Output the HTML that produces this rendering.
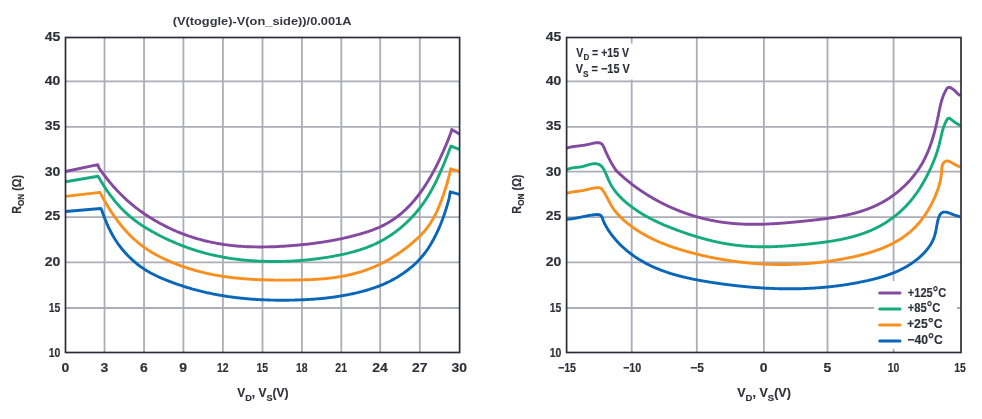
<!DOCTYPE html><html><head><meta charset="utf-8"><style>html,body{margin:0;padding:0;background:#fff;}svg{display:block;will-change:transform;}text{font-family:"Liberation Sans",Arial,sans-serif;font-weight:bold;fill:#2f2f3a;stroke:#2f2f3a;stroke-width:0.15px;}</style></head><body>
<svg width="982" height="419" viewBox="0 0 982 419">
<rect width="982" height="419" fill="#fff"/>
<line x1="104.55" y1="37.50" x2="104.55" y2="352.50" stroke="#acadb6" stroke-width="1.8"/>
<line x1="144.05" y1="37.50" x2="144.05" y2="352.50" stroke="#acadb6" stroke-width="1.8"/>
<line x1="183.40" y1="37.50" x2="183.40" y2="352.50" stroke="#acadb6" stroke-width="1.8"/>
<line x1="222.90" y1="37.50" x2="222.90" y2="352.50" stroke="#acadb6" stroke-width="1.8"/>
<line x1="262.50" y1="37.50" x2="262.50" y2="352.50" stroke="#acadb6" stroke-width="1.8"/>
<line x1="301.90" y1="37.50" x2="301.90" y2="352.50" stroke="#acadb6" stroke-width="1.8"/>
<line x1="341.30" y1="37.50" x2="341.30" y2="352.50" stroke="#acadb6" stroke-width="1.8"/>
<line x1="380.20" y1="37.50" x2="380.20" y2="352.50" stroke="#acadb6" stroke-width="1.8"/>
<line x1="419.80" y1="37.50" x2="419.80" y2="352.50" stroke="#acadb6" stroke-width="1.8"/>
<line x1="65.50" y1="81.30" x2="459.60" y2="81.30" stroke="#acadb6" stroke-width="1.8"/>
<line x1="65.50" y1="126.80" x2="459.60" y2="126.80" stroke="#acadb6" stroke-width="1.8"/>
<line x1="65.50" y1="171.60" x2="459.60" y2="171.60" stroke="#acadb6" stroke-width="1.8"/>
<line x1="65.50" y1="217.20" x2="459.60" y2="217.20" stroke="#acadb6" stroke-width="1.8"/>
<line x1="65.50" y1="262.40" x2="459.60" y2="262.40" stroke="#acadb6" stroke-width="1.8"/>
<line x1="65.50" y1="308.00" x2="459.60" y2="308.00" stroke="#acadb6" stroke-width="1.8"/>
<line x1="631.70" y1="37.50" x2="631.70" y2="352.50" stroke="#acadb6" stroke-width="1.8"/>
<line x1="696.80" y1="37.50" x2="696.80" y2="352.50" stroke="#acadb6" stroke-width="1.8"/>
<line x1="763.90" y1="37.50" x2="763.90" y2="352.50" stroke="#acadb6" stroke-width="1.8"/>
<line x1="827.50" y1="37.50" x2="827.50" y2="352.50" stroke="#acadb6" stroke-width="1.8"/>
<line x1="893.60" y1="37.50" x2="893.60" y2="352.50" stroke="#acadb6" stroke-width="1.8"/>
<line x1="566.60" y1="81.30" x2="961.00" y2="81.30" stroke="#acadb6" stroke-width="1.8"/>
<line x1="566.60" y1="126.80" x2="961.00" y2="126.80" stroke="#acadb6" stroke-width="1.8"/>
<line x1="566.60" y1="171.60" x2="961.00" y2="171.60" stroke="#acadb6" stroke-width="1.8"/>
<line x1="566.60" y1="217.20" x2="961.00" y2="217.20" stroke="#acadb6" stroke-width="1.8"/>
<line x1="566.60" y1="262.40" x2="961.00" y2="262.40" stroke="#acadb6" stroke-width="1.8"/>
<line x1="566.60" y1="308.00" x2="961.00" y2="308.00" stroke="#acadb6" stroke-width="1.8"/>
<rect x="570" y="43.5" width="66" height="36" fill="#fff"/>
<path d="M65.5 171.5L97.8 164.6L97.8 164.6L98.8 167.6L99.8 169.1L100.8 170.5L101.8 171.9L102.8 173.3L103.8 174.6L104.8 175.9L105.8 177.2L106.8 178.5L107.8 179.8L108.8 181.0L109.8 182.2L110.8 183.4L111.8 184.6L112.8 185.8L113.8 186.9L114.8 188.0L115.8 189.1L116.8 190.2L117.8 191.3L118.8 192.3L119.8 193.3L120.8 194.3L121.8 195.3L122.8 196.3L123.8 197.3L124.8 198.2L125.8 199.1L126.8 200.1L127.8 200.9L128.8 201.8L129.8 202.7L130.8 203.5L131.8 204.4L132.8 205.2L133.8 206.0L134.8 206.8L135.8 207.6L136.8 208.4L137.8 209.1L138.8 209.9L139.8 210.6L140.8 211.3L141.8 212.0L142.8 212.7L143.8 213.4L144.8 214.1L145.8 214.8L146.8 215.4L147.8 216.1L148.8 216.7L149.8 217.4L150.8 218.0L151.8 218.6L152.8 219.2L153.8 219.8L154.8 220.4L155.8 221.0L156.8 221.5L157.8 222.1L158.8 222.7L159.8 223.2L160.8 223.8L161.8 224.3L162.8 224.8L163.8 225.3L164.8 225.9L165.8 226.4L166.8 226.9L167.8 227.4L168.8 227.8L169.8 228.3L170.8 228.8L171.8 229.2L172.8 229.7L173.8 230.2L174.8 230.6L175.8 231.0L176.8 231.5L177.8 231.9L178.8 232.3L179.8 232.7L180.8 233.1L181.8 233.5L182.8 233.9L183.8 234.2L184.8 234.6L185.8 235.0L186.8 235.3L187.8 235.7L188.8 236.0L189.8 236.4L190.8 236.7L191.8 237.0L192.8 237.4L193.8 237.7L194.8 238.0L195.8 238.3L196.8 238.6L197.8 238.9L198.8 239.2L199.8 239.4L200.8 239.7L201.8 240.0L202.8 240.2L203.8 240.5L204.8 240.8L205.8 241.0L206.8 241.2L207.8 241.5L208.8 241.7L209.8 241.9L210.8 242.1L211.8 242.3L212.8 242.5L213.8 242.7L214.8 242.9L215.8 243.1L216.8 243.3L217.8 243.5L218.8 243.7L219.8 243.8L220.8 244.0L221.8 244.2L222.8 244.3L223.8 244.5L224.8 244.6L225.8 244.8L226.8 244.9L227.8 245.0L228.8 245.1L229.8 245.3L230.8 245.4L231.8 245.5L232.8 245.6L233.8 245.7L234.8 245.8L235.8 245.9L236.8 246.0L237.8 246.1L238.8 246.2L239.8 246.2L240.8 246.3L241.8 246.4L242.8 246.4L243.8 246.5L244.8 246.6L245.8 246.6L246.8 246.7L247.8 246.7L248.8 246.7L249.8 246.8L250.8 246.8L251.8 246.8L252.8 246.9L253.8 246.9L254.8 246.9L255.8 246.9L256.8 246.9L257.8 247.0L258.8 247.0L259.8 247.0L260.8 247.0L261.8 247.0L262.8 247.0L263.8 246.9L264.8 246.9L265.8 246.9L266.8 246.9L267.8 246.9L268.8 246.9L269.8 246.8L270.8 246.8L271.8 246.8L272.8 246.7L273.8 246.7L274.8 246.7L275.8 246.6L276.8 246.6L277.8 246.5L278.8 246.5L279.8 246.4L280.8 246.4L281.8 246.3L282.8 246.2L283.8 246.2L284.8 246.1L285.8 246.0L286.8 246.0L287.8 245.9L288.8 245.8L289.8 245.8L290.8 245.7L291.8 245.6L292.8 245.5L293.8 245.4L294.8 245.4L295.8 245.3L296.8 245.2L297.8 245.1L298.8 245.0L299.8 244.9L300.8 244.8L301.8 244.7L302.8 244.6L303.8 244.5L304.8 244.4L305.8 244.3L306.8 244.2L307.8 244.1L308.8 244.0L309.8 243.8L310.8 243.7L311.8 243.6L312.8 243.5L313.8 243.3L314.8 243.2L315.8 243.1L316.8 242.9L317.8 242.8L318.8 242.7L319.8 242.5L320.8 242.4L321.8 242.2L322.8 242.1L323.8 241.9L324.8 241.8L325.8 241.6L326.8 241.4L327.8 241.3L328.8 241.1L329.8 240.9L330.8 240.7L331.8 240.6L332.8 240.4L333.8 240.2L334.8 240.0L335.8 239.8L336.8 239.6L337.8 239.4L338.8 239.2L339.8 239.0L340.8 238.8L341.8 238.6L342.8 238.4L343.8 238.1L344.8 237.9L345.8 237.7L346.8 237.5L347.8 237.2L348.8 237.0L349.8 236.7L350.8 236.5L351.8 236.2L352.8 236.0L353.8 235.7L354.8 235.5L355.8 235.2L356.8 234.9L357.8 234.7L358.8 234.4L359.8 234.1L360.8 233.8L361.8 233.5L362.8 233.2L363.8 232.9L364.8 232.6L365.8 232.3L366.8 232.0L367.8 231.6L368.8 231.3L369.8 231.0L370.8 230.6L371.8 230.3L372.8 229.9L373.8 229.5L374.8 229.1L375.8 228.7L376.8 228.3L377.8 227.9L378.8 227.5L379.8 227.0L380.8 226.5L381.8 226.1L382.8 225.6L383.8 225.1L384.8 224.6L385.8 224.0L386.8 223.5L387.8 222.9L388.8 222.3L389.8 221.7L390.8 221.1L391.8 220.5L392.8 219.8L393.8 219.1L394.8 218.5L395.8 217.7L396.8 217.0L397.8 216.2L398.8 215.5L399.8 214.7L400.8 213.8L401.8 213.0L402.8 212.1L403.8 211.2L404.8 210.3L405.8 209.4L406.8 208.4L407.8 207.4L408.8 206.4L409.8 205.4L410.8 204.3L411.8 203.2L412.8 202.1L413.8 200.9L414.8 199.7L415.8 198.5L416.8 197.3L417.8 196.0L418.8 194.7L419.8 193.3L420.8 192.0L421.8 190.6L422.8 189.1L423.8 187.7L424.8 186.1L425.8 184.6L426.8 183.0L427.8 181.4L428.8 179.8L429.8 178.1L430.8 176.4L431.8 174.6L432.8 172.8L433.8 170.9L434.8 169.1L435.8 167.1L436.8 165.2L437.8 163.2L438.8 161.1L439.8 159.0L440.8 156.9L441.8 154.7L442.8 152.5L443.8 150.2L444.8 147.9L445.8 145.5L446.8 143.1L447.8 140.6L448.8 138.1L449.8 135.5L450.8 132.9L451.8 129.5L451.8 129.5L459.4 134.0" fill="none" stroke="#834a9f" stroke-width="2.90" stroke-linejoin="round" stroke-linecap="butt"/>
<path d="M65.5 181.7L98.0 176.3L98.0 176.3L99.0 177.8L100.0 179.5L101.0 181.2L102.0 182.8L103.0 184.4L104.0 186.0L105.0 187.6L106.0 189.1L107.0 190.6L108.0 192.0L109.0 193.4L110.0 194.8L111.0 196.1L112.0 197.4L113.0 198.7L114.0 200.0L115.0 201.2L116.0 202.4L117.0 203.6L118.0 204.7L119.0 205.8L120.0 206.9L121.0 208.0L122.0 209.0L123.0 210.0L124.0 211.0L125.0 212.0L126.0 212.9L127.0 213.8L128.0 214.7L129.0 215.6L130.0 216.5L131.0 217.3L132.0 218.1L133.0 218.9L134.0 219.7L135.0 220.5L136.0 221.2L137.0 221.9L138.0 222.7L139.0 223.4L140.0 224.1L141.0 224.7L142.0 225.4L143.0 226.0L144.0 226.7L145.0 227.3L146.0 227.9L147.0 228.5L148.0 229.1L149.0 229.7L150.0 230.3L151.0 230.9L152.0 231.4L153.0 232.0L154.0 232.5L155.0 233.1L156.0 233.6L157.0 234.2L158.0 234.7L159.0 235.2L160.0 235.7L161.0 236.2L162.0 236.7L163.0 237.2L164.0 237.7L165.0 238.2L166.0 238.7L167.0 239.2L168.0 239.6L169.0 240.1L170.0 240.6L171.0 241.0L172.0 241.4L173.0 241.9L174.0 242.3L175.0 242.7L176.0 243.2L177.0 243.6L178.0 244.0L179.0 244.4L180.0 244.8L181.0 245.2L182.0 245.6L183.0 246.0L184.0 246.3L185.0 246.7L186.0 247.1L187.0 247.4L188.0 247.8L189.0 248.1L190.0 248.5L191.0 248.8L192.0 249.2L193.0 249.5L194.0 249.8L195.0 250.1L196.0 250.5L197.0 250.8L198.0 251.1L199.0 251.4L200.0 251.7L201.0 252.0L202.0 252.2L203.0 252.5L204.0 252.8L205.0 253.1L206.0 253.3L207.0 253.6L208.0 253.8L209.0 254.1L210.0 254.3L211.0 254.6L212.0 254.8L213.0 255.0L214.0 255.3L215.0 255.5L216.0 255.7L217.0 255.9L218.0 256.1L219.0 256.3L220.0 256.5L221.0 256.7L222.0 256.9L223.0 257.1L224.0 257.3L225.0 257.5L226.0 257.7L227.0 257.8L228.0 258.0L229.0 258.1L230.0 258.3L231.0 258.5L232.0 258.6L233.0 258.8L234.0 258.9L235.0 259.0L236.0 259.2L237.0 259.3L238.0 259.4L239.0 259.5L240.0 259.7L241.0 259.8L242.0 259.9L243.0 260.0L244.0 260.1L245.0 260.2L246.0 260.3L247.0 260.4L248.0 260.5L249.0 260.5L250.0 260.6L251.0 260.7L252.0 260.8L253.0 260.8L254.0 260.9L255.0 261.0L256.0 261.0L257.0 261.1L258.0 261.1L259.0 261.2L260.0 261.2L261.0 261.3L262.0 261.3L263.0 261.3L264.0 261.4L265.0 261.4L266.0 261.4L267.0 261.5L268.0 261.5L269.0 261.5L270.0 261.5L271.0 261.5L272.0 261.5L273.0 261.5L274.0 261.5L275.0 261.5L276.0 261.5L277.0 261.5L278.0 261.5L279.0 261.5L280.0 261.5L281.0 261.5L282.0 261.4L283.0 261.4L284.0 261.4L285.0 261.4L286.0 261.3L287.0 261.3L288.0 261.2L289.0 261.2L290.0 261.2L291.0 261.1L292.0 261.1L293.0 261.0L294.0 260.9L295.0 260.9L296.0 260.8L297.0 260.8L298.0 260.7L299.0 260.6L300.0 260.5L301.0 260.5L302.0 260.4L303.0 260.3L304.0 260.2L305.0 260.1L306.0 260.0L307.0 259.9L308.0 259.8L309.0 259.7L310.0 259.6L311.0 259.5L312.0 259.4L313.0 259.3L314.0 259.2L315.0 259.0L316.0 258.9L317.0 258.8L318.0 258.6L319.0 258.5L320.0 258.4L321.0 258.2L322.0 258.1L323.0 257.9L324.0 257.8L325.0 257.6L326.0 257.5L327.0 257.3L328.0 257.1L329.0 257.0L330.0 256.8L331.0 256.6L332.0 256.5L333.0 256.3L334.0 256.1L335.0 255.9L336.0 255.7L337.0 255.5L338.0 255.3L339.0 255.1L340.0 254.9L341.0 254.7L342.0 254.5L343.0 254.3L344.0 254.1L345.0 253.8L346.0 253.6L347.0 253.4L348.0 253.1L349.0 252.9L350.0 252.6L351.0 252.4L352.0 252.1L353.0 251.9L354.0 251.6L355.0 251.3L356.0 251.0L357.0 250.7L358.0 250.4L359.0 250.1L360.0 249.8L361.0 249.5L362.0 249.2L363.0 248.8L364.0 248.5L365.0 248.1L366.0 247.8L367.0 247.4L368.0 247.0L369.0 246.6L370.0 246.2L371.0 245.8L372.0 245.4L373.0 245.0L374.0 244.5L375.0 244.0L376.0 243.6L377.0 243.1L378.0 242.6L379.0 242.1L380.0 241.6L381.0 241.1L382.0 240.5L383.0 240.0L384.0 239.4L385.0 238.8L386.0 238.2L387.0 237.6L388.0 237.0L389.0 236.3L390.0 235.7L391.0 235.0L392.0 234.3L393.0 233.6L394.0 232.9L395.0 232.2L396.0 231.5L397.0 230.7L398.0 229.9L399.0 229.1L400.0 228.3L401.0 227.5L402.0 226.6L403.0 225.8L404.0 224.9L405.0 224.0L406.0 223.0L407.0 222.1L408.0 221.1L409.0 220.2L410.0 219.2L411.0 218.1L412.0 217.1L413.0 216.0L414.0 214.9L415.0 213.8L416.0 212.7L417.0 211.5L418.0 210.3L419.0 209.0L420.0 207.8L421.0 206.5L422.0 205.1L423.0 203.7L424.0 202.3L425.0 200.8L426.0 199.3L427.0 197.8L428.0 196.2L429.0 194.5L430.0 192.8L431.0 191.1L432.0 189.3L433.0 187.4L434.0 185.5L435.0 183.6L436.0 181.6L437.0 179.5L438.0 177.4L439.0 175.2L440.0 173.0L441.0 170.7L442.0 168.4L443.0 166.1L444.0 163.7L445.0 161.2L446.0 158.7L447.0 156.2L448.0 153.7L449.0 151.1L450.0 148.4L451.0 146.1L451.0 146.1L459.4 149.4" fill="none" stroke="#17aa7d" stroke-width="2.90" stroke-linejoin="round" stroke-linecap="butt"/>
<path d="M65.5 196.4L100.0 192.4L100.0 192.4L101.0 194.4L102.0 196.2L103.0 198.1L104.0 199.9L105.0 201.6L106.0 203.3L107.0 205.0L108.0 206.7L109.0 208.3L110.0 209.9L111.0 211.4L112.0 213.0L113.0 214.4L114.0 215.9L115.0 217.3L116.0 218.7L117.0 220.1L118.0 221.4L119.0 222.7L120.0 224.0L121.0 225.2L122.0 226.5L123.0 227.6L124.0 228.8L125.0 229.9L126.0 231.1L127.0 232.1L128.0 233.2L129.0 234.2L130.0 235.3L131.0 236.2L132.0 237.2L133.0 238.2L134.0 239.1L135.0 240.0L136.0 240.9L137.0 241.7L138.0 242.6L139.0 243.4L140.0 244.2L141.0 245.0L142.0 245.7L143.0 246.5L144.0 247.2L145.0 247.9L146.0 248.6L147.0 249.3L148.0 249.9L149.0 250.6L150.0 251.2L151.0 251.8L152.0 252.4L153.0 253.0L154.0 253.6L155.0 254.1L156.0 254.7L157.0 255.2L158.0 255.8L158.9 256.3L159.9 256.8L160.9 257.3L161.9 257.8L162.9 258.3L163.9 258.7L164.9 259.2L165.9 259.7L166.9 260.1L167.9 260.6L168.9 261.0L169.9 261.4L170.9 261.9L171.9 262.3L172.9 262.7L173.9 263.1L174.9 263.5L175.9 263.9L176.9 264.3L177.9 264.7L178.9 265.0L179.9 265.4L180.9 265.8L181.9 266.1L182.9 266.5L183.9 266.8L184.9 267.2L185.9 267.5L186.9 267.8L187.9 268.2L188.9 268.5L189.9 268.8L190.9 269.1L191.9 269.4L192.9 269.7L193.9 270.0L194.9 270.3L195.9 270.6L196.9 270.8L197.9 271.1L198.9 271.4L199.9 271.6L200.9 271.9L201.9 272.1L202.9 272.4L203.9 272.6L204.9 272.9L205.9 273.1L206.9 273.3L207.9 273.5L208.9 273.8L209.9 274.0L210.9 274.2L211.9 274.4L212.9 274.6L213.9 274.8L214.9 275.0L215.9 275.1L216.9 275.3L217.9 275.5L218.9 275.7L219.9 275.8L220.9 276.0L221.9 276.2L222.9 276.3L223.9 276.5L224.9 276.6L225.9 276.8L226.9 276.9L227.9 277.1L228.9 277.2L229.9 277.3L230.9 277.4L231.9 277.6L232.9 277.7L233.9 277.8L234.9 277.9L235.9 278.0L236.9 278.1L237.9 278.2L238.9 278.3L239.9 278.4L240.9 278.5L241.9 278.6L242.9 278.7L243.9 278.8L244.9 278.8L245.9 278.9L246.9 279.0L247.9 279.1L248.9 279.1L249.9 279.2L250.9 279.3L251.9 279.3L252.9 279.4L253.9 279.4L254.9 279.5L255.9 279.5L256.9 279.6L257.9 279.6L258.9 279.7L259.9 279.7L260.9 279.7L261.9 279.8L262.9 279.8L263.9 279.8L264.9 279.9L265.9 279.9L266.9 279.9L267.9 280.0L268.9 280.0L269.9 280.0L270.9 280.0L271.9 280.0L272.9 280.0L273.9 280.1L274.9 280.1L275.8 280.1L276.8 280.1L277.8 280.1L278.8 280.1L279.8 280.1L280.8 280.1L281.8 280.1L282.8 280.1L283.8 280.1L284.8 280.1L285.8 280.1L286.8 280.1L287.8 280.1L288.8 280.1L289.8 280.1L290.8 280.1L291.8 280.1L292.8 280.0L293.8 280.0L294.8 280.0L295.8 280.0L296.8 280.0L297.8 280.0L298.8 280.0L299.8 279.9L300.8 279.9L301.8 279.9L302.8 279.9L303.8 279.9L304.8 279.8L305.8 279.8L306.8 279.8L307.8 279.7L308.8 279.7L309.8 279.6L310.8 279.6L311.8 279.6L312.8 279.5L313.8 279.5L314.8 279.4L315.8 279.3L316.8 279.3L317.8 279.2L318.8 279.1L319.8 279.1L320.8 279.0L321.8 278.9L322.8 278.8L323.8 278.7L324.8 278.7L325.8 278.6L326.8 278.5L327.8 278.4L328.8 278.2L329.8 278.1L330.8 278.0L331.8 277.9L332.8 277.8L333.8 277.6L334.8 277.5L335.8 277.3L336.8 277.2L337.8 277.0L338.8 276.9L339.8 276.7L340.8 276.5L341.8 276.4L342.8 276.2L343.8 276.0L344.8 275.8L345.8 275.6L346.8 275.4L347.8 275.2L348.8 275.0L349.8 274.7L350.8 274.5L351.8 274.3L352.8 274.0L353.8 273.7L354.8 273.5L355.8 273.2L356.8 272.9L357.8 272.7L358.8 272.4L359.8 272.1L360.8 271.8L361.8 271.4L362.8 271.1L363.8 270.8L364.8 270.4L365.8 270.1L366.8 269.7L367.8 269.4L368.8 269.0L369.8 268.6L370.8 268.2L371.8 267.8L372.8 267.4L373.8 267.0L374.8 266.6L375.8 266.1L376.8 265.7L377.8 265.2L378.8 264.8L379.8 264.3L380.8 263.8L381.8 263.3L382.8 262.8L383.8 262.3L384.8 261.8L385.8 261.2L386.8 260.7L387.8 260.1L388.8 259.6L389.8 259.0L390.8 258.4L391.8 257.8L392.7 257.2L393.7 256.6L394.7 256.0L395.7 255.3L396.7 254.7L397.7 254.0L398.7 253.3L399.7 252.6L400.7 251.9L401.7 251.2L402.7 250.5L403.7 249.7L404.7 249.0L405.7 248.2L406.7 247.5L407.7 246.7L408.7 245.9L409.7 245.1L410.7 244.2L411.7 243.4L412.7 242.6L413.7 241.7L414.7 240.8L415.7 239.9L416.7 239.0L417.7 238.1L418.7 237.2L419.7 236.2L420.7 235.2L421.7 234.2L422.7 233.1L423.7 232.0L424.7 230.9L425.7 229.7L426.7 228.4L427.7 227.1L428.7 225.7L429.7 224.3L430.7 222.7L431.7 221.1L432.7 219.5L433.7 217.7L434.7 215.8L435.7 213.8L436.7 211.8L437.7 209.6L438.7 207.3L439.7 204.9L440.7 202.4L441.7 199.8L442.7 197.0L443.7 194.1L444.7 191.0L445.7 187.8L446.7 184.5L447.7 181.0L448.7 177.3L449.7 173.5L450.7 168.8L450.7 168.8L459.3 171.4" fill="none" stroke="#f7901e" stroke-width="2.90" stroke-linejoin="round" stroke-linecap="butt"/>
<path d="M65.5 211.5L100.8 208.5L100.8 208.5L101.8 210.4L102.8 213.2L103.8 215.9L104.8 218.5L105.8 221.0L106.8 223.4L107.8 225.6L108.8 227.8L109.8 229.9L110.8 231.8L111.8 233.7L112.8 235.5L113.8 237.3L114.8 238.9L115.8 240.5L116.8 242.0L117.8 243.5L118.8 244.9L119.8 246.2L120.8 247.5L121.8 248.8L122.8 250.0L123.8 251.1L124.8 252.3L125.8 253.4L126.8 254.4L127.8 255.5L128.8 256.5L129.8 257.5L130.8 258.4L131.8 259.4L132.8 260.3L133.8 261.2L134.8 262.0L135.8 262.9L136.7 263.7L137.7 264.5L138.7 265.2L139.7 266.0L140.7 266.7L141.7 267.4L142.7 268.1L143.7 268.8L144.7 269.4L145.7 270.0L146.7 270.7L147.7 271.3L148.7 271.8L149.7 272.4L150.7 273.0L151.7 273.5L152.7 274.0L153.7 274.5L154.7 275.0L155.7 275.5L156.7 276.0L157.7 276.5L158.7 276.9L159.7 277.4L160.7 277.8L161.7 278.2L162.7 278.7L163.7 279.1L164.7 279.5L165.7 279.9L166.7 280.3L167.7 280.7L168.7 281.1L169.7 281.5L170.7 281.8L171.7 282.2L172.7 282.6L173.7 282.9L174.7 283.3L175.7 283.7L176.7 284.0L177.7 284.4L178.7 284.7L179.7 285.1L180.7 285.4L181.7 285.7L182.7 286.0L183.7 286.4L184.7 286.7L185.7 287.0L186.7 287.3L187.7 287.6L188.7 287.9L189.7 288.2L190.7 288.5L191.7 288.8L192.7 289.1L193.7 289.3L194.7 289.6L195.7 289.9L196.7 290.1L197.7 290.4L198.7 290.7L199.7 290.9L200.7 291.2L201.7 291.4L202.7 291.7L203.7 291.9L204.7 292.1L205.6 292.4L206.6 292.6L207.6 292.8L208.6 293.0L209.6 293.2L210.6 293.4L211.6 293.7L212.6 293.9L213.6 294.1L214.6 294.3L215.6 294.4L216.6 294.6L217.6 294.8L218.6 295.0L219.6 295.2L220.6 295.4L221.6 295.5L222.6 295.7L223.6 295.9L224.6 296.0L225.6 296.2L226.6 296.3L227.6 296.5L228.6 296.6L229.6 296.8L230.6 296.9L231.6 297.0L232.6 297.2L233.6 297.3L234.6 297.4L235.6 297.6L236.6 297.7L237.6 297.8L238.6 297.9L239.6 298.0L240.6 298.1L241.6 298.2L242.6 298.3L243.6 298.4L244.6 298.5L245.6 298.6L246.6 298.7L247.6 298.8L248.6 298.9L249.6 299.0L250.6 299.0L251.6 299.1L252.6 299.2L253.6 299.3L254.6 299.3L255.6 299.4L256.6 299.5L257.6 299.5L258.6 299.6L259.6 299.6L260.6 299.7L261.6 299.7L262.6 299.8L263.6 299.8L264.6 299.9L265.6 299.9L266.6 299.9L267.6 300.0L268.6 300.0L269.6 300.0L270.6 300.1L271.6 300.1L272.6 300.1L273.6 300.1L274.6 300.1L275.6 300.2L276.5 300.2L277.5 300.2L278.5 300.2L279.5 300.2L280.5 300.2L281.5 300.2L282.5 300.2L283.5 300.2L284.5 300.2L285.5 300.2L286.5 300.2L287.5 300.2L288.5 300.2L289.5 300.1L290.5 300.1L291.5 300.1L292.5 300.1L293.5 300.1L294.5 300.1L295.5 300.0L296.5 300.0L297.5 300.0L298.5 299.9L299.5 299.9L300.5 299.9L301.5 299.8L302.5 299.8L303.5 299.7L304.5 299.7L305.5 299.6L306.5 299.6L307.5 299.5L308.5 299.5L309.5 299.4L310.5 299.4L311.5 299.3L312.5 299.2L313.5 299.2L314.5 299.1L315.5 299.0L316.5 298.9L317.5 298.9L318.5 298.8L319.5 298.7L320.5 298.6L321.5 298.5L322.5 298.4L323.5 298.3L324.5 298.2L325.5 298.1L326.5 298.0L327.5 297.9L328.5 297.7L329.5 297.6L330.5 297.5L331.5 297.4L332.5 297.2L333.5 297.1L334.5 297.0L335.5 296.8L336.5 296.7L337.5 296.5L338.5 296.4L339.5 296.2L340.5 296.0L341.5 295.9L342.5 295.7L343.5 295.5L344.5 295.4L345.4 295.2L346.4 295.0L347.4 294.8L348.4 294.6L349.4 294.4L350.4 294.2L351.4 294.0L352.4 293.8L353.4 293.5L354.4 293.3L355.4 293.1L356.4 292.9L357.4 292.6L358.4 292.4L359.4 292.1L360.4 291.9L361.4 291.6L362.4 291.4L363.4 291.1L364.4 290.8L365.4 290.5L366.4 290.3L367.4 290.0L368.4 289.7L369.4 289.4L370.4 289.0L371.4 288.7L372.4 288.4L373.4 288.1L374.4 287.7L375.4 287.4L376.4 287.0L377.4 286.7L378.4 286.3L379.4 285.9L380.4 285.5L381.4 285.1L382.4 284.7L383.4 284.3L384.4 283.8L385.4 283.4L386.4 282.9L387.4 282.4L388.4 282.0L389.4 281.5L390.4 281.0L391.4 280.4L392.4 279.9L393.4 279.4L394.4 278.8L395.4 278.2L396.4 277.7L397.4 277.1L398.4 276.5L399.4 275.8L400.4 275.2L401.4 274.5L402.4 273.9L403.4 273.2L404.4 272.5L405.4 271.8L406.4 271.0L407.4 270.3L408.4 269.5L409.4 268.7L410.4 267.9L411.4 267.1L412.4 266.3L413.4 265.4L414.4 264.5L415.4 263.6L416.3 262.7L417.3 261.7L418.3 260.7L419.3 259.6L420.3 258.5L421.3 257.4L422.3 256.2L423.3 255.0L424.3 253.8L425.3 252.4L426.3 251.1L427.3 249.7L428.3 248.2L429.3 246.6L430.3 245.0L431.3 243.3L432.3 241.6L433.3 239.8L434.3 237.9L435.3 236.0L436.3 233.9L437.3 231.8L438.3 229.6L439.3 227.3L440.3 225.0L441.3 222.5L442.3 219.9L443.3 217.2L444.3 214.4L445.3 211.4L446.3 208.2L447.3 204.9L448.3 201.4L449.3 197.6L450.3 191.8L450.3 191.8L459.3 194.3" fill="none" stroke="#0a66b7" stroke-width="2.90" stroke-linejoin="round" stroke-linecap="butt"/>
<path d="M566.6 148.1L567.1 147.9L567.6 147.8L568.1 147.7L568.6 147.6L569.1 147.5L569.5 147.3L570.0 147.2L570.5 147.1L571.0 147.0L571.5 146.9L572.0 146.8L572.5 146.8L573.0 146.7L573.5 146.6L574.0 146.5L574.5 146.5L575.0 146.4L575.5 146.3L576.0 146.3L576.5 146.2L577.0 146.1L577.5 146.1L578.0 146.0L578.5 145.9L579.0 145.9L579.5 145.8L580.0 145.8L580.5 145.7L581.0 145.6L581.5 145.6L582.0 145.5L582.5 145.4L583.0 145.4L583.5 145.3L584.0 145.2L584.5 145.2L585.0 145.1L585.4 145.0L585.9 144.9L586.4 144.8L586.9 144.7L587.4 144.6L587.9 144.5L588.4 144.4L588.9 144.3L589.4 144.2L589.9 144.1L590.4 143.9L590.8 143.8L591.3 143.7L591.8 143.6L592.3 143.5L592.8 143.3L593.3 143.2L593.8 143.1L594.3 143.0L594.8 143.0L595.3 142.9L595.8 142.8L596.3 142.8L596.8 142.7L597.3 142.7L597.8 142.7L598.3 142.7L598.8 142.8L599.3 142.8L599.8 143.0L600.2 143.1L600.7 143.3L601.1 143.5L601.5 143.8L601.9 144.2L602.3 144.5L602.6 144.9L602.9 145.3L603.1 145.7L603.4 146.2L603.6 146.6L603.8 147.1L604.1 147.5L604.3 148.0L604.4 148.5L604.6 148.9L604.8 149.4L605.0 149.9L605.2 150.3L605.4 150.8L605.6 151.3L605.8 151.7L606.0 152.2L606.2 152.6L606.4 153.1L606.6 153.5L606.8 154.0L607.1 154.5L607.3 154.9L607.5 155.4L607.7 155.8L607.9 156.3L608.2 156.7L608.4 157.2L608.6 157.6L608.8 158.1L609.1 158.5L609.3 158.9L609.5 159.4L609.8 159.8L610.0 160.3L610.2 160.7L610.5 161.2L610.7 161.6L610.9 162.1L611.2 162.5L611.4 162.9L611.7 163.4L611.9 163.8L612.2 164.2L612.4 164.7L612.7 165.1L612.9 165.5L613.2 166.0L613.4 166.4L613.7 166.8L614.0 167.3L614.2 167.7L614.5 168.1L614.8 168.5L615.1 169.0L615.3 169.4L615.6 169.8L615.9 170.2L616.2 170.6L617.2 171.6L617.6 171.9L618.0 172.3L618.3 172.6L618.7 172.9L619.1 173.3L619.4 173.6L619.8 174.0L620.2 174.3L620.5 174.6L620.9 175.0L621.3 175.3L621.6 175.6L622.0 176.0L622.4 176.3L622.8 176.6L623.1 177.0L623.5 177.3L623.9 177.6L624.3 178.0L624.6 178.3L625.0 178.6L625.4 178.9L625.8 179.3L626.2 179.6L626.6 179.9L626.9 180.2L627.3 180.5L627.7 180.9L628.1 181.2L628.5 181.5L628.9 181.8L629.3 182.1L629.7 182.4L630.0 182.7L630.4 183.0L630.8 183.4L631.2 183.7L631.6 184.0L632.0 184.3L632.4 184.6L632.8 184.9L633.2 185.2L633.6 185.5L634.0 185.8L634.4 186.1L634.8 186.4L635.2 186.7L635.6 187.0L636.0 187.3L636.4 187.6L636.8 187.9L637.2 188.1L637.6 188.4L638.1 188.7L638.5 189.0L638.9 189.3L639.3 189.6L639.7 189.9L640.1 190.2L640.5 190.4L640.9 190.7L641.3 191.0L641.8 191.3L642.2 191.6L642.6 191.8L643.0 192.1L643.4 192.4L643.8 192.7L644.3 192.9L644.7 193.2L645.1 193.5L645.5 193.7L645.9 194.0L646.4 194.3L646.8 194.5L647.2 194.8L647.6 195.1L648.1 195.3L648.5 195.6L648.9 195.9L649.3 196.1L649.8 196.4L650.2 196.6L650.6 196.9L651.1 197.1L651.5 197.4L651.9 197.7L652.4 197.9L652.8 198.2L653.2 198.4L653.7 198.7L654.1 198.9L654.5 199.1L655.0 199.4L655.4 199.6L655.8 199.9L656.3 200.1L656.7 200.4L657.2 200.6L657.6 200.8L658.0 201.1L658.5 201.3L658.9 201.5L659.4 201.8L659.8 202.0L660.2 202.2L660.7 202.5L661.1 202.7L661.6 202.9L662.0 203.2L662.5 203.4L662.9 203.6L663.4 203.8L663.8 204.0L664.3 204.3L664.7 204.5L665.2 204.7L665.6 204.9L666.1 205.1L666.5 205.4L667.0 205.6L667.4 205.8L667.9 206.0L668.3 206.2L668.8 206.4L669.2 206.6L669.7 206.8L670.1 207.0L670.6 207.2L671.1 207.4L671.5 207.6L672.0 207.8L672.4 208.0L672.9 208.2L673.3 208.4L673.8 208.6L674.3 208.8L674.7 209.0L675.2 209.2L675.7 209.4L676.1 209.6L676.6 209.8L677.0 210.0L677.5 210.2L678.0 210.4L678.4 210.5L678.9 210.7L679.4 210.9L679.8 211.1L680.3 211.3L680.8 211.4L681.2 211.6L681.7 211.8L682.2 212.0L682.6 212.1L683.1 212.3L683.6 212.5L684.0 212.7L684.5 212.8L685.0 213.0L685.5 213.2L685.9 213.3L686.4 213.5L686.9 213.7L687.3 213.8L687.8 214.0L688.3 214.1L688.8 214.3L689.2 214.5L689.7 214.6L690.2 214.8L690.7 214.9L691.1 215.1L691.6 215.2L692.1 215.4L692.6 215.5L693.1 215.7L693.5 215.8L694.0 216.0L694.5 216.1L695.0 216.2L695.4 216.4L695.9 216.5L696.4 216.7L696.9 216.8L697.4 216.9L697.9 217.1L698.3 217.2L698.8 217.3L699.3 217.5L699.8 217.6L700.3 217.7L700.7 217.9L701.2 218.0L701.7 218.1L702.2 218.2L702.7 218.4L703.2 218.5L703.7 218.6L704.1 218.7L704.6 218.8L705.1 219.0L705.6 219.1L706.1 219.2L706.6 219.3L707.1 219.4L707.6 219.5L708.0 219.6L708.5 219.7L709.0 219.8L709.5 219.9L710.0 220.0L710.5 220.2L711.0 220.3L711.5 220.4L712.0 220.5L712.4 220.5L712.9 220.6L713.4 220.7L713.9 220.8L714.4 220.9L714.9 221.0L715.4 221.1L715.9 221.2L716.4 221.3L716.9 221.4L717.4 221.5L717.9 221.5L718.3 221.6L718.8 221.7L719.3 221.8L719.8 221.9L720.3 221.9L720.8 222.0L721.3 222.1L721.8 222.2L722.3 222.2L722.8 222.3L723.3 222.4L723.8 222.4L724.3 222.5L724.8 222.6L725.3 222.6L725.8 222.7L726.3 222.7L726.8 222.8L727.3 222.9L727.8 222.9L728.3 223.0L728.8 223.0L729.2 223.1L729.7 223.1L730.2 223.2L730.7 223.2L731.2 223.3L731.7 223.3L732.2 223.4L732.7 223.4L733.2 223.5L733.7 223.5L734.2 223.6L734.7 223.6L735.2 223.6L735.7 223.7L736.2 223.7L736.7 223.7L737.2 223.8L737.7 223.8L738.2 223.8L738.7 223.9L739.2 223.9L739.7 223.9L740.2 224.0L740.7 224.0L741.2 224.0L741.7 224.0L742.2 224.1L742.7 224.1L743.2 224.1L743.7 224.1L744.2 224.1L744.7 224.2L745.2 224.2L745.7 224.2L746.2 224.2L746.7 224.2L747.2 224.2L747.7 224.2L748.2 224.3L748.7 224.3L749.2 224.3L749.7 224.3L750.2 224.3L750.7 224.3L751.2 224.3L751.7 224.3L752.2 224.3L752.7 224.3L753.2 224.3L753.7 224.3L754.2 224.3L754.7 224.3L755.2 224.3L755.7 224.3L756.2 224.3L756.7 224.3L757.2 224.3L757.7 224.3L758.2 224.3L758.7 224.3L759.2 224.3L759.7 224.3L760.2 224.2L760.7 224.2L761.2 224.2L761.7 224.2L762.2 224.2L762.7 224.2L763.2 224.2L763.7 224.2L764.2 224.1L764.7 224.1L765.2 224.1L765.7 224.1L766.2 224.1L766.7 224.0L767.2 224.0L767.7 224.0L768.2 224.0L768.7 224.0L769.2 223.9L769.7 223.9L770.2 223.9L770.7 223.9L771.2 223.8L771.7 223.8L772.2 223.8L772.7 223.8L773.2 223.7L773.7 223.7L774.2 223.7L774.7 223.6L775.2 223.6L775.7 223.6L776.2 223.5L776.7 223.5L777.2 223.5L777.7 223.5L778.2 223.4L778.7 223.4L779.2 223.3L779.7 223.3L780.2 223.3L780.7 223.2L781.2 223.2L781.7 223.2L782.2 223.1L782.7 223.1L783.2 223.1L783.7 223.0L784.2 223.0L784.7 222.9L785.2 222.9L785.7 222.9L786.2 222.8L786.7 222.8L787.2 222.7L787.7 222.7L788.2 222.6L788.7 222.6L789.2 222.6L789.7 222.5L790.2 222.5L790.6 222.4L791.1 222.4L791.6 222.3L792.1 222.3L792.6 222.2L793.1 222.2L793.6 222.1L794.1 222.1L794.6 222.1L795.1 222.0L795.6 222.0L796.1 221.9L796.6 221.9L797.1 221.8L797.6 221.8L798.1 221.7L798.6 221.7L799.1 221.6L799.6 221.6L800.1 221.5L800.6 221.5L801.1 221.4L801.6 221.4L802.1 221.3L802.6 221.3L803.1 221.2L803.6 221.2L804.1 221.1L804.6 221.1L805.1 221.0L805.6 221.0L806.1 220.9L806.6 220.9L807.1 220.8L807.6 220.7L808.1 220.7L808.6 220.6L809.1 220.6L809.6 220.5L810.1 220.5L810.6 220.4L811.0 220.4L811.5 220.3L812.0 220.3L812.5 220.2L813.0 220.2L813.5 220.1L814.0 220.1L814.5 220.0L815.0 219.9L815.5 219.9L816.0 219.8L816.5 219.8L817.0 219.7L817.5 219.7L818.0 219.6L818.5 219.5L819.0 219.5L819.5 219.4L820.0 219.4L820.5 219.3L821.0 219.2L821.5 219.2L822.0 219.1L822.5 219.1L823.0 219.0L823.5 218.9L824.0 218.9L824.5 218.8L825.0 218.7L825.4 218.7L825.9 218.6L826.4 218.5L826.9 218.5L827.4 218.4L827.9 218.3L828.4 218.3L828.9 218.2L829.4 218.1L829.9 218.1L830.4 218.0L830.9 217.9L831.4 217.8L831.9 217.8L832.4 217.7L832.9 217.6L833.4 217.5L833.9 217.5L834.4 217.4L834.8 217.3L835.3 217.2L835.8 217.1L836.3 217.0L836.8 217.0L837.3 216.9L837.8 216.8L838.3 216.7L838.8 216.6L839.3 216.5L839.8 216.4L840.3 216.4L840.8 216.3L841.3 216.2L841.7 216.1L842.2 216.0L842.7 215.9L843.2 215.8L843.7 215.7L844.2 215.6L844.7 215.5L845.2 215.4L845.7 215.3L846.2 215.2L846.6 215.1L847.1 215.0L847.6 214.9L848.1 214.7L848.6 214.6L849.1 214.5L849.6 214.4L850.1 214.3L850.5 214.2L851.0 214.1L851.5 213.9L852.0 213.8L852.5 213.7L853.0 213.6L853.5 213.5L853.9 213.3L854.4 213.2L854.9 213.1L855.4 212.9L855.9 212.8L856.3 212.7L856.8 212.5L857.3 212.4L857.8 212.3L858.3 212.1L858.8 212.0L859.2 211.8L859.7 211.7L860.2 211.5L860.7 211.4L861.1 211.2L861.6 211.1L862.1 210.9L862.6 210.8L863.0 210.6L863.5 210.5L864.0 210.3L864.5 210.2L864.9 210.0L865.4 209.8L865.9 209.7L866.4 209.5L866.8 209.3L867.3 209.1L867.8 209.0L868.2 208.8L868.7 208.6L869.2 208.4L869.6 208.2L870.1 208.1L870.6 207.9L871.0 207.7L871.5 207.5L871.9 207.3L872.4 207.1L872.9 206.9L873.3 206.7L873.8 206.5L874.2 206.3L874.7 206.1L875.1 205.9L875.6 205.7L876.1 205.5L876.5 205.3L877.0 205.1L877.4 204.8L877.9 204.6L878.3 204.4L878.8 204.2L879.2 203.9L879.6 203.7L880.1 203.5L880.5 203.3L881.0 203.0L881.4 202.8L881.9 202.6L882.3 202.3L882.7 202.1L883.2 201.8L883.6 201.6L884.0 201.3L884.5 201.1L884.9 200.8L885.3 200.6L885.8 200.3L886.2 200.1L886.6 199.8L887.0 199.5L887.5 199.3L887.9 199.0L888.3 198.7L888.7 198.5L889.1 198.2L889.6 197.9L890.0 197.6L890.4 197.4L890.8 197.1L891.2 196.8L891.6 196.5L892.0 196.2L892.4 195.9L892.9 195.6L893.3 195.3L893.7 195.0L894.1 194.7L894.5 194.4L894.9 194.1L895.3 193.8L895.7 193.5L896.1 193.2L896.4 192.9L896.8 192.6L897.2 192.3L897.6 192.0L898.0 191.7L898.4 191.4L898.8 191.0L899.2 190.7L899.5 190.4L899.9 190.1L900.3 189.7L900.7 189.4L901.1 189.1L901.4 188.8L901.8 188.4L902.2 188.1L902.5 187.7L902.9 187.4L903.3 187.1L903.6 186.7L904.0 186.4L904.4 186.0L904.7 185.7L905.1 185.3L905.4 185.0L905.8 184.6L906.2 184.3L906.5 183.9L906.9 183.6L907.2 183.2L907.5 182.9L907.9 182.5L908.2 182.1L908.6 181.8L908.9 181.4L909.3 181.0L909.6 180.7L909.9 180.3L910.3 179.9L910.6 179.5L910.9 179.2L911.2 178.8L911.6 178.4L911.9 178.0L912.2 177.6L912.5 177.3L912.9 176.9L913.2 176.5L913.5 176.1L913.8 175.7L914.1 175.3L914.4 174.9L914.7 174.5L915.0 174.1L915.3 173.7L915.6 173.3L915.9 172.9L916.2 172.5L916.5 172.1L916.8 171.7L917.1 171.3L917.4 170.9L917.7 170.5L918.0 170.1L918.2 169.7L918.5 169.3L918.8 168.8L919.1 168.4L919.4 168.0L919.6 167.6L919.9 167.2L920.2 166.7L920.4 166.3L920.7 165.9L920.9 165.5L921.2 165.0L921.5 164.6L921.7 164.2L922.0 163.7L922.2 163.3L922.5 162.9L922.7 162.4L922.9 162.0L923.2 161.6L923.4 161.1L923.7 160.7L923.9 160.2L924.1 159.8L924.3 159.3L924.6 158.9L924.8 158.4L925.0 158.0L925.2 157.6L925.5 157.1L925.7 156.6L925.9 156.2L926.1 155.7L926.3 155.3L926.5 154.8L926.7 154.4L926.9 153.9L927.1 153.5L927.3 153.0L927.5 152.5L927.7 152.1L927.9 151.6L928.1 151.2L928.3 150.7L928.5 150.2L928.7 149.8L928.9 149.3L929.0 148.8L929.2 148.4L929.4 147.9L929.6 147.4L929.8 147.0L929.9 146.5L930.1 146.0L930.3 145.6L930.4 145.1L930.6 144.6L930.8 144.2L930.9 143.7L931.1 143.2L931.3 142.7L931.4 142.3L931.6 141.8L931.7 141.3L931.9 140.8L932.0 140.4L932.2 139.9L932.3 139.4L932.5 138.9L932.6 138.5L932.8 138.0L932.9 137.5L933.1 137.0L933.2 136.5L933.4 136.1L933.5 135.6L933.6 135.1L933.8 134.6L933.9 134.1L934.0 133.7L934.2 133.2L934.3 132.7L934.4 132.2L934.6 131.7L934.7 131.2L934.8 130.8L934.9 130.3L935.1 129.8L935.2 129.3L935.3 128.8L935.4 128.3L935.5 127.8L935.7 127.4L935.8 126.9L935.9 126.4L936.0 125.9L936.1 125.4L936.2 124.9L936.4 124.4L936.5 124.0L936.6 123.5L936.7 123.0L936.8 122.5L936.9 122.0L937.0 121.5L937.1 121.0L937.2 120.5L937.3 120.0L937.4 119.6L937.5 119.1L937.6 118.6L937.7 118.1L937.9 117.6L938.0 117.1L938.1 116.6L938.2 116.1L938.3 115.6L938.4 115.2L938.4 114.7L938.5 114.2L938.6 113.7L938.7 113.2L938.8 112.7L938.9 112.2L939.0 111.7L939.1 111.2L939.2 110.7L939.3 110.2L939.4 109.8L939.5 109.3L939.6 108.8L939.7 108.3L939.8 107.8L940.0 107.3L940.1 106.8L940.2 106.3L940.3 105.9L940.4 105.4L940.5 104.9L940.6 104.4L940.8 103.9L940.9 103.4L941.0 102.9L941.1 102.5L941.3 102.0L941.4 101.5L941.5 101.0L941.7 100.5L941.8 100.0L942.0 99.6L942.1 99.1L942.3 98.6L942.4 98.1L942.6 97.7L942.7 97.2L942.9 96.7L943.1 96.3L943.3 95.8L943.5 95.3L943.6 94.9L943.8 94.4L944.0 93.9L944.2 93.5L944.5 93.0L944.7 92.6L944.9 92.1L945.1 91.7L945.3 91.2L945.6 90.8L945.8 90.4L946.1 89.9L946.3 89.5L946.6 89.1L946.9 88.7L947.2 88.3L947.6 87.9L948.0 87.7L948.4 87.4L948.9 87.4L949.4 87.4L949.9 87.5L950.4 87.6L950.8 87.8L951.3 88.1L951.7 88.3L952.1 88.6L952.5 88.9L952.9 89.2L953.3 89.5L953.7 89.8L954.1 90.1L954.5 90.5L954.8 90.8L955.2 91.2L955.6 91.5L955.9 91.9L956.3 92.2L956.6 92.6L957.0 92.9L957.3 93.2L957.7 93.6L958.1 93.9L958.5 94.3L958.8 94.6L959.2 94.9L959.6 95.2L960.1 95.4L960.5 95.7" fill="none" stroke="#834a9f" stroke-width="2.90" stroke-linejoin="round" stroke-linecap="butt"/>
<path d="M566.5 169.8L567.0 169.6L567.4 169.4L567.9 169.2L568.4 169.0L568.8 168.8L569.3 168.7L569.8 168.5L570.3 168.4L570.8 168.3L571.2 168.2L571.7 168.0L572.2 167.9L572.7 167.9L573.2 167.8L573.7 167.7L574.2 167.6L574.7 167.6L575.2 167.5L575.7 167.5L576.2 167.4L576.7 167.4L577.2 167.3L577.7 167.3L578.2 167.2L578.7 167.2L579.2 167.1L579.7 167.1L580.2 167.0L580.7 166.9L581.2 166.8L581.7 166.7L582.1 166.6L582.6 166.5L583.1 166.4L583.6 166.3L584.1 166.1L584.6 166.0L585.0 165.8L585.5 165.7L586.0 165.6L586.5 165.4L587.0 165.3L587.4 165.1L587.9 165.0L588.4 164.8L588.9 164.7L589.4 164.6L589.8 164.4L590.3 164.3L590.8 164.2L591.3 164.1L591.8 164.0L592.3 163.9L592.8 163.8L593.3 163.8L593.8 163.7L594.3 163.7L594.8 163.7L595.3 163.7L595.8 163.7L596.3 163.7L596.8 163.8L597.3 163.9L597.7 164.1L598.2 164.2L598.7 164.4L599.1 164.6L599.6 164.9L600.0 165.1L600.4 165.4L600.8 165.7L601.2 166.0L601.5 166.4L601.9 166.7L602.2 167.1L602.5 167.5L602.9 167.9L603.1 168.3L603.4 168.7L603.7 169.1L603.9 169.6L604.2 170.0L604.4 170.5L604.6 170.9L604.8 171.4L605.1 171.8L605.3 172.3L605.5 172.7L605.7 173.2L605.9 173.6L606.1 174.1L606.3 174.5L606.5 175.0L606.7 175.5L606.9 175.9L607.1 176.4L607.3 176.8L607.5 177.3L607.7 177.8L607.8 178.2L608.0 178.7L608.2 179.1L608.4 179.6L608.6 180.1L608.9 180.5L609.1 181.0L609.3 181.4L609.5 181.9L609.7 182.3L609.9 182.8L610.1 183.2L610.4 183.7L610.6 184.1L610.8 184.6L611.1 185.0L611.3 185.4L611.6 185.9L611.8 186.3L612.1 186.7L612.4 187.1L612.6 187.6L612.9 188.0L613.2 188.4L613.5 188.8L613.8 189.2L614.0 189.6L614.3 190.0L614.6 190.4L614.9 190.8L615.2 191.2L615.6 191.6L615.9 192.0L616.2 192.4L616.5 192.8L616.8 193.2L617.1 193.6L617.5 193.9L617.8 194.3L618.1 194.7L618.5 195.1L618.8 195.4L619.1 195.8L619.5 196.2L619.8 196.5L620.2 196.9L620.5 197.2L620.9 197.6L621.2 198.0L621.6 198.3L622.0 198.6L622.3 199.0L622.7 199.3L623.0 199.7L623.4 200.0L623.8 200.4L624.1 200.7L624.5 201.0L624.9 201.4L625.3 201.7L625.6 202.0L626.0 202.4L626.4 202.7L626.8 203.0L627.2 203.3L627.6 203.6L627.9 204.0L628.3 204.3L628.7 204.6L629.1 204.9L629.5 205.2L629.9 205.5L630.3 205.8L630.7 206.1L631.1 206.4L631.5 206.7L631.9 207.0L632.3 207.3L632.7 207.6L633.1 207.9L633.5 208.2L633.9 208.5L634.3 208.8L634.7 209.1L635.1 209.4L635.5 209.7L636.0 209.9L636.4 210.2L636.8 210.5L637.2 210.8L637.6 211.1L638.0 211.3L638.5 211.6L638.9 211.9L639.3 212.1L639.7 212.4L640.1 212.7L640.6 212.9L641.0 213.2L641.4 213.5L641.8 213.7L642.3 214.0L642.7 214.2L643.1 214.5L643.6 214.8L644.0 215.0L644.4 215.3L644.9 215.5L645.3 215.8L645.7 216.0L646.2 216.2L646.6 216.5L647.0 216.7L647.5 217.0L647.9 217.2L648.4 217.4L648.8 217.7L649.2 217.9L649.7 218.2L650.1 218.4L650.6 218.6L651.0 218.8L651.5 219.1L651.9 219.3L652.4 219.5L652.8 219.7L653.3 220.0L653.7 220.2L654.2 220.4L654.6 220.6L655.1 220.9L655.5 221.1L656.0 221.3L656.4 221.5L656.9 221.7L657.3 221.9L657.8 222.1L658.2 222.3L658.7 222.6L659.1 222.8L659.6 223.0L660.0 223.2L660.5 223.4L661.0 223.6L661.4 223.8L661.9 224.0L662.3 224.2L662.8 224.4L663.2 224.6L663.7 224.8L664.2 225.0L664.6 225.2L665.1 225.4L665.5 225.6L666.0 225.8L666.5 225.9L666.9 226.1L667.4 226.3L667.9 226.5L668.3 226.7L668.8 226.9L669.3 227.1L669.7 227.3L670.2 227.4L670.6 227.6L671.1 227.8L671.6 228.0L672.0 228.2L672.5 228.4L673.0 228.5L673.4 228.7L673.9 228.9L674.4 229.1L674.8 229.3L675.3 229.4L675.8 229.6L676.3 229.8L676.7 230.0L677.2 230.1L677.7 230.3L678.1 230.5L678.6 230.6L679.1 230.8L679.5 231.0L680.0 231.2L680.5 231.3L681.0 231.5L681.4 231.7L681.9 231.8L682.4 232.0L682.8 232.2L683.3 232.3L683.8 232.5L684.3 232.7L684.7 232.8L685.2 233.0L685.7 233.2L686.1 233.3L686.6 233.5L687.1 233.6L687.6 233.8L688.0 234.0L688.5 234.1L689.0 234.3L689.5 234.4L689.9 234.6L690.4 234.7L690.9 234.9L691.4 235.0L691.9 235.2L692.3 235.3L692.8 235.5L693.3 235.7L693.8 235.8L694.2 236.0L694.7 236.1L695.2 236.2L695.7 236.4L696.1 236.5L696.6 236.7L697.1 236.8L697.6 237.0L698.1 237.1L698.5 237.3L699.0 237.4L699.5 237.5L700.0 237.7L700.5 237.8L700.9 238.0L701.4 238.1L701.9 238.2L702.4 238.4L702.9 238.5L703.4 238.6L703.8 238.8L704.3 238.9L704.8 239.0L705.3 239.2L705.8 239.3L706.3 239.4L706.7 239.5L707.2 239.7L707.7 239.8L708.2 239.9L708.7 240.0L709.2 240.2L709.6 240.3L710.1 240.4L710.6 240.5L711.1 240.6L711.6 240.8L712.1 240.9L712.6 241.0L713.1 241.1L713.5 241.2L714.0 241.3L714.5 241.4L715.0 241.5L715.5 241.7L716.0 241.8L716.5 241.9L717.0 242.0L717.4 242.1L717.9 242.2L718.4 242.3L718.9 242.4L719.4 242.5L719.9 242.6L720.4 242.7L720.9 242.8L721.4 242.9L721.9 243.0L722.4 243.1L722.8 243.2L723.3 243.3L723.8 243.3L724.3 243.4L724.8 243.5L725.3 243.6L725.8 243.7L726.3 243.8L726.8 243.9L727.3 244.0L727.8 244.0L728.3 244.1L728.8 244.2L729.3 244.3L729.7 244.3L730.2 244.4L730.7 244.5L731.2 244.6L731.7 244.6L732.2 244.7L732.7 244.8L733.2 244.9L733.7 244.9L734.2 245.0L734.7 245.1L735.2 245.1L735.7 245.2L736.2 245.2L736.7 245.3L737.2 245.4L737.7 245.4L738.2 245.5L738.7 245.5L739.2 245.6L739.7 245.6L740.2 245.7L740.7 245.7L741.2 245.8L741.7 245.8L742.2 245.9L742.7 245.9L743.2 246.0L743.7 246.0L744.2 246.0L744.7 246.1L745.2 246.1L745.6 246.2L746.1 246.2L746.6 246.2L747.1 246.3L747.6 246.3L748.1 246.3L748.6 246.4L749.1 246.4L749.6 246.4L750.1 246.4L750.6 246.5L751.1 246.5L751.6 246.5L752.1 246.5L752.6 246.6L753.1 246.6L753.6 246.6L754.1 246.6L754.6 246.6L755.1 246.6L755.6 246.7L756.1 246.7L756.6 246.7L757.1 246.7L757.6 246.7L758.1 246.7L758.6 246.7L759.1 246.7L759.6 246.7L760.1 246.8L760.6 246.8L761.1 246.8L761.6 246.8L762.1 246.8L762.6 246.8L763.1 246.8L763.6 246.8L764.1 246.8L764.6 246.8L765.1 246.8L765.6 246.8L766.1 246.8L766.6 246.8L767.1 246.7L767.6 246.7L768.1 246.7L768.6 246.7L769.1 246.7L769.6 246.7L770.2 246.7L770.7 246.7L771.2 246.7L771.7 246.7L772.2 246.6L772.7 246.6L773.2 246.6L773.7 246.6L774.2 246.6L774.7 246.6L775.2 246.5L775.7 246.5L776.2 246.5L776.7 246.5L777.2 246.5L777.7 246.4L778.2 246.4L778.7 246.4L779.1 246.4L779.6 246.3L780.1 246.3L780.6 246.3L781.1 246.3L781.6 246.2L782.1 246.2L782.6 246.2L783.1 246.2L783.6 246.1L784.1 246.1L784.6 246.1L785.1 246.0L785.6 246.0L786.1 246.0L786.6 245.9L787.1 245.9L787.6 245.9L788.1 245.8L788.6 245.8L789.1 245.8L789.6 245.7L790.1 245.7L790.6 245.6L791.1 245.6L791.6 245.6L792.1 245.5L792.6 245.5L793.1 245.5L793.6 245.4L794.1 245.4L794.6 245.3L795.1 245.3L795.6 245.2L796.1 245.2L796.6 245.2L797.1 245.1L797.6 245.1L798.1 245.0L798.6 245.0L799.1 244.9L799.6 244.9L800.1 244.8L800.6 244.8L801.1 244.8L801.6 244.7L802.1 244.7L802.6 244.6L803.1 244.6L803.6 244.5L804.1 244.5L804.6 244.4L805.1 244.4L805.6 244.3L806.1 244.3L806.6 244.2L807.1 244.2L807.6 244.1L808.1 244.1L808.6 244.0L809.1 244.0L809.6 243.9L810.1 243.9L810.6 243.8L811.1 243.8L811.6 243.7L812.1 243.7L812.6 243.6L813.0 243.5L813.5 243.5L814.0 243.4L814.5 243.4L815.0 243.3L815.5 243.3L816.0 243.2L816.5 243.2L817.0 243.1L817.5 243.0L818.0 243.0L818.5 242.9L819.0 242.9L819.5 242.8L820.0 242.7L820.5 242.7L821.0 242.6L821.5 242.5L822.0 242.5L822.5 242.4L823.0 242.4L823.5 242.3L824.0 242.2L824.5 242.2L825.0 242.1L825.5 242.0L826.0 242.0L826.5 241.9L827.0 241.8L827.4 241.7L827.9 241.7L828.4 241.6L828.9 241.5L829.4 241.4L829.9 241.4L830.4 241.3L830.9 241.2L831.4 241.1L831.9 241.1L832.4 241.0L832.9 240.9L833.4 240.8L833.9 240.7L834.4 240.6L834.9 240.6L835.4 240.5L835.8 240.4L836.3 240.3L836.8 240.2L837.3 240.1L837.8 240.0L838.3 239.9L838.8 239.8L839.3 239.8L839.8 239.7L840.3 239.6L840.8 239.5L841.2 239.4L841.7 239.3L842.2 239.2L842.7 239.1L843.2 239.0L843.7 238.9L844.2 238.7L844.7 238.6L845.2 238.5L845.7 238.4L846.1 238.3L846.6 238.2L847.1 238.1L847.6 238.0L848.1 237.9L848.6 237.7L849.1 237.6L849.5 237.5L850.0 237.4L850.5 237.2L851.0 237.1L851.5 237.0L852.0 236.9L852.5 236.7L852.9 236.6L853.4 236.5L853.9 236.3L854.4 236.2L854.9 236.1L855.3 235.9L855.8 235.8L856.3 235.6L856.8 235.5L857.3 235.4L857.7 235.2L858.2 235.1L858.7 234.9L859.2 234.8L859.6 234.6L860.1 234.5L860.6 234.3L861.1 234.1L861.5 234.0L862.0 233.8L862.5 233.7L863.0 233.5L863.4 233.3L863.9 233.2L864.4 233.0L864.8 232.8L865.3 232.6L865.8 232.5L866.3 232.3L866.7 232.1L867.2 231.9L867.7 231.7L868.1 231.6L868.6 231.4L869.0 231.2L869.5 231.0L870.0 230.8L870.4 230.6L870.9 230.4L871.3 230.2L871.8 230.0L872.3 229.8L872.7 229.6L873.2 229.4L873.6 229.2L874.1 229.0L874.5 228.8L875.0 228.5L875.4 228.3L875.9 228.1L876.3 227.9L876.8 227.7L877.2 227.4L877.7 227.2L878.1 227.0L878.6 226.7L879.0 226.5L879.5 226.3L879.9 226.0L880.3 225.8L880.8 225.6L881.2 225.3L881.6 225.1L882.1 224.8L882.5 224.6L882.9 224.3L883.4 224.1L883.8 223.8L884.2 223.6L884.7 223.3L885.1 223.0L885.5 222.8L885.9 222.5L886.4 222.2L886.8 222.0L887.2 221.7L887.6 221.4L888.0 221.1L888.4 220.9L888.9 220.6L889.3 220.3L889.7 220.0L890.1 219.7L890.5 219.4L890.9 219.1L891.3 218.8L891.7 218.6L892.1 218.3L892.5 218.0L892.9 217.7L893.3 217.4L893.7 217.1L894.1 216.7L894.5 216.4L894.9 216.1L895.3 215.8L895.7 215.5L896.1 215.2L896.5 214.9L896.9 214.6L897.2 214.2L897.6 213.9L898.0 213.6L898.4 213.3L898.8 212.9L899.1 212.6L899.5 212.3L899.9 212.0L900.3 211.6L900.6 211.3L901.0 210.9L901.4 210.6L901.7 210.3L902.1 209.9L902.5 209.6L902.8 209.2L903.2 208.9L903.5 208.5L903.9 208.2L904.3 207.8L904.6 207.5L905.0 207.1L905.3 206.8L905.7 206.4L906.0 206.1L906.4 205.7L906.7 205.3L907.0 205.0L907.4 204.6L907.7 204.2L908.1 203.9L908.4 203.5L908.7 203.1L909.1 202.7L909.4 202.4L909.7 202.0L910.0 201.6L910.4 201.2L910.7 200.8L911.0 200.5L911.3 200.1L911.6 199.7L912.0 199.3L912.3 198.9L912.6 198.5L912.9 198.1L913.2 197.7L913.5 197.3L913.8 196.9L914.1 196.5L914.4 196.1L914.7 195.7L915.0 195.3L915.3 194.9L915.6 194.5L915.9 194.1L916.2 193.7L916.5 193.3L916.8 192.9L917.1 192.5L917.3 192.1L917.6 191.7L917.9 191.3L918.2 190.8L918.5 190.4L918.7 190.0L919.0 189.6L919.3 189.2L919.6 188.7L919.8 188.3L920.1 187.9L920.4 187.5L920.6 187.1L920.9 186.6L921.2 186.2L921.4 185.8L921.7 185.3L921.9 184.9L922.2 184.5L922.4 184.1L922.7 183.6L922.9 183.2L923.2 182.8L923.4 182.3L923.7 181.9L923.9 181.5L924.2 181.0L924.4 180.6L924.7 180.1L924.9 179.7L925.1 179.3L925.4 178.8L925.6 178.4L925.8 177.9L926.1 177.5L926.3 177.1L926.5 176.6L926.8 176.2L927.0 175.7L927.2 175.3L927.5 174.8L927.7 174.4L927.9 173.9L928.1 173.5L928.3 173.0L928.6 172.6L928.8 172.1L929.0 171.7L929.2 171.2L929.4 170.8L929.6 170.3L929.9 169.9L930.1 169.4L930.3 169.0L930.5 168.5L930.7 168.1L930.9 167.6L931.1 167.1L931.3 166.7L931.5 166.2L931.7 165.8L931.9 165.3L932.1 164.9L932.3 164.4L932.5 163.9L932.7 163.5L932.9 163.0L933.1 162.6L933.3 162.1L933.5 161.6L933.7 161.2L933.9 160.7L934.0 160.2L934.2 159.8L934.4 159.3L934.6 158.8L934.8 158.4L934.9 157.9L935.1 157.4L935.3 157.0L935.5 156.5L935.6 156.0L935.8 155.6L936.0 155.1L936.1 154.6L936.3 154.1L936.5 153.7L936.6 153.2L936.8 152.7L936.9 152.2L937.1 151.8L937.3 151.3L937.4 150.8L937.6 150.3L937.7 149.9L937.8 149.4L938.0 148.9L938.1 148.4L938.3 147.9L938.4 147.5L938.5 147.0L938.7 146.5L938.8 146.0L938.9 145.5L939.1 145.0L939.2 144.6L939.3 144.1L939.4 143.6L939.5 143.1L939.7 142.6L939.8 142.1L939.9 141.6L940.0 141.2L940.1 140.7L940.2 140.2L940.3 139.7L940.4 139.2L940.6 138.7L940.7 138.2L940.8 137.7L940.9 137.3L941.0 136.8L941.1 136.3L941.2 135.8L941.3 135.3L941.5 134.8L941.6 134.3L941.7 133.8L941.8 133.4L941.9 132.9L942.1 132.4L942.2 131.9L942.3 131.4L942.4 130.9L942.6 130.5L942.7 130.0L942.9 129.5L943.0 129.0L943.1 128.5L943.3 128.1L943.4 127.6L943.6 127.1L943.8 126.6L943.9 126.2L944.1 125.7L944.3 125.2L944.5 124.8L944.7 124.3L944.8 123.8L945.0 123.4L945.3 122.9L945.5 122.5L945.7 122.0L945.9 121.6L946.1 121.1L946.4 120.7L946.6 120.2L946.9 119.8L947.1 119.4L947.4 119.0L947.8 118.6L948.2 118.4L948.7 118.2L949.2 118.2L949.7 118.4L950.1 118.7L950.5 118.9L950.9 119.2L951.3 119.5L951.7 119.9L952.1 120.2L952.5 120.5L952.9 120.8L953.3 121.1L953.6 121.4L954.0 121.7L954.4 122.0L954.9 122.3L955.3 122.6L955.7 122.8L956.1 123.1L956.6 123.4L957.0 123.6L957.4 123.9L957.9 124.1L958.3 124.4L958.7 124.7L959.1 124.9L959.5 125.2L959.9 125.5L960.3 125.8" fill="none" stroke="#17aa7d" stroke-width="2.90" stroke-linejoin="round" stroke-linecap="butt"/>
<path d="M566.7 193.4L567.2 193.2L567.7 193.1L568.1 192.9L568.6 192.8L569.1 192.7L569.6 192.6L570.1 192.4L570.6 192.3L571.1 192.2L571.6 192.1L572.0 192.1L572.5 192.0L573.0 191.9L573.5 191.8L574.0 191.7L574.5 191.7L575.0 191.6L575.5 191.5L576.0 191.5L576.5 191.4L577.0 191.3L577.5 191.3L578.0 191.2L578.5 191.2L579.0 191.1L579.5 191.0L580.0 191.0L580.5 190.9L581.0 190.8L581.5 190.7L581.9 190.6L582.4 190.6L582.9 190.5L583.4 190.4L583.9 190.3L584.4 190.2L584.9 190.1L585.4 190.0L585.9 189.8L586.4 189.7L586.8 189.6L587.3 189.5L587.8 189.4L588.3 189.3L588.8 189.2L589.3 189.1L589.8 188.9L590.3 188.8L590.7 188.7L591.2 188.6L591.7 188.5L592.2 188.4L592.7 188.3L593.2 188.2L593.7 188.1L594.2 188.0L594.7 188.0L595.2 187.9L595.7 187.8L596.2 187.8L596.7 187.7L597.2 187.7L597.7 187.6L598.2 187.6L598.7 187.6L599.2 187.7L599.6 187.8L600.1 187.9L600.6 188.1L601.0 188.4L601.4 188.7L601.7 189.1L602.1 189.5L602.4 189.8L602.7 190.2L603.0 190.6L603.3 191.0L603.6 191.5L603.9 191.9L604.1 192.3L604.4 192.7L604.7 193.1L604.9 193.6L605.2 194.0L605.4 194.4L605.7 194.9L605.9 195.3L606.1 195.7L606.4 196.2L606.6 196.6L606.9 197.1L607.1 197.5L607.3 198.0L607.5 198.4L607.8 198.8L608.0 199.3L608.2 199.7L608.5 200.2L608.7 200.6L608.9 201.1L609.2 201.5L609.4 202.0L609.6 202.4L609.9 202.8L610.1 203.3L610.3 203.7L610.6 204.1L610.8 204.6L611.1 205.0L611.3 205.4L611.6 205.9L611.9 206.3L612.1 206.7L612.4 207.2L612.6 207.6L612.9 208.0L613.2 208.4L613.5 208.8L613.8 209.2L614.1 209.6L614.3 210.1L614.6 210.5L614.9 210.9L615.3 211.2L615.6 211.6L615.9 212.0L616.2 212.4L616.5 212.8L616.8 213.2L617.2 213.6L617.5 213.9L617.8 214.3L618.2 214.7L618.5 215.0L618.8 215.4L619.2 215.8L619.5 216.1L619.9 216.5L620.2 216.8L620.6 217.2L621.0 217.5L621.3 217.9L621.7 218.2L622.0 218.6L622.4 218.9L622.8 219.3L623.1 219.6L623.5 219.9L623.9 220.3L624.3 220.6L624.6 220.9L625.0 221.2L625.4 221.6L625.8 221.9L626.2 222.2L626.6 222.5L626.9 222.9L627.3 223.2L627.7 223.5L628.1 223.8L628.5 224.1L628.9 224.4L629.3 224.7L629.7 225.0L630.1 225.3L630.5 225.6L630.9 225.9L631.3 226.2L631.7 226.5L632.1 226.8L632.5 227.1L632.9 227.4L633.3 227.7L633.7 228.0L634.1 228.3L634.6 228.6L635.0 228.8L635.4 229.1L635.8 229.4L636.2 229.7L636.6 230.0L637.0 230.2L637.5 230.5L637.9 230.8L638.3 231.0L638.7 231.3L639.2 231.6L639.6 231.8L640.0 232.1L640.4 232.4L640.9 232.6L641.3 232.9L641.7 233.1L642.1 233.4L642.6 233.6L643.0 233.9L643.4 234.1L643.9 234.4L644.3 234.6L644.8 234.9L645.2 235.1L645.6 235.4L646.1 235.6L646.5 235.8L646.9 236.1L647.4 236.3L647.8 236.5L648.3 236.8L648.7 237.0L649.2 237.2L649.6 237.5L650.1 237.7L650.5 237.9L651.0 238.1L651.4 238.4L651.9 238.6L652.3 238.8L652.8 239.0L653.2 239.2L653.7 239.4L654.1 239.7L654.6 239.9L655.0 240.1L655.5 240.3L655.9 240.5L656.4 240.7L656.8 240.9L657.3 241.1L657.8 241.3L658.2 241.5L658.7 241.7L659.1 241.9L659.6 242.1L660.0 242.3L660.5 242.5L661.0 242.7L661.4 242.9L661.9 243.1L662.4 243.3L662.8 243.4L663.3 243.6L663.8 243.8L664.2 244.0L664.7 244.2L665.2 244.4L665.6 244.5L666.1 244.7L666.6 244.9L667.0 245.1L667.5 245.2L668.0 245.4L668.4 245.6L668.9 245.8L669.4 245.9L669.8 246.1L670.3 246.3L670.8 246.4L671.3 246.6L671.7 246.8L672.2 246.9L672.7 247.1L673.1 247.3L673.6 247.4L674.1 247.6L674.6 247.7L675.0 247.9L675.5 248.1L676.0 248.2L676.5 248.4L676.9 248.5L677.4 248.7L677.9 248.8L678.4 249.0L678.9 249.1L679.3 249.3L679.8 249.4L680.3 249.6L680.8 249.7L681.2 249.9L681.7 250.0L682.2 250.2L682.7 250.3L683.2 250.4L683.6 250.6L684.1 250.7L684.6 250.9L685.1 251.0L685.6 251.1L686.0 251.3L686.5 251.4L687.0 251.5L687.5 251.7L688.0 251.8L688.5 251.9L688.9 252.1L689.4 252.2L689.9 252.3L690.4 252.5L690.9 252.6L691.4 252.7L691.8 252.8L692.3 253.0L692.8 253.1L693.3 253.2L693.8 253.3L694.3 253.5L694.7 253.6L695.2 253.7L695.7 253.8L696.2 254.0L696.7 254.1L697.2 254.2L697.7 254.3L698.1 254.4L698.6 254.6L699.1 254.7L699.6 254.8L700.1 254.9L700.6 255.0L701.1 255.1L701.5 255.3L702.0 255.4L702.5 255.5L703.0 255.6L703.5 255.7L704.0 255.8L704.5 255.9L705.0 256.0L705.5 256.1L705.9 256.2L706.4 256.4L706.9 256.5L707.4 256.6L707.9 256.7L708.4 256.8L708.9 256.9L709.4 257.0L709.9 257.1L710.3 257.2L710.8 257.3L711.3 257.4L711.8 257.5L712.3 257.6L712.8 257.7L713.3 257.8L713.8 257.9L714.3 258.0L714.8 258.1L715.2 258.2L715.7 258.3L716.2 258.4L716.7 258.5L717.2 258.5L717.7 258.6L718.2 258.7L718.7 258.8L719.2 258.9L719.7 259.0L720.2 259.1L720.7 259.2L721.2 259.3L721.6 259.3L722.1 259.4L722.6 259.5L723.1 259.6L723.6 259.7L724.1 259.8L724.6 259.8L725.1 259.9L725.6 260.0L726.1 260.1L726.6 260.2L727.1 260.2L727.6 260.3L728.1 260.4L728.6 260.5L729.1 260.6L729.5 260.6L730.0 260.7L730.5 260.8L731.0 260.8L731.5 260.9L732.0 261.0L732.5 261.1L733.0 261.1L733.5 261.2L734.0 261.3L734.5 261.3L735.0 261.4L735.5 261.5L736.0 261.5L736.5 261.6L737.0 261.7L737.5 261.7L738.0 261.8L738.5 261.9L739.0 261.9L739.5 262.0L740.0 262.0L740.5 262.1L740.9 262.2L741.4 262.2L741.9 262.3L742.4 262.3L742.9 262.4L743.4 262.4L743.9 262.5L744.4 262.6L744.9 262.6L745.4 262.7L745.9 262.7L746.4 262.8L746.9 262.8L747.4 262.9L747.9 262.9L748.4 263.0L748.9 263.0L749.4 263.1L749.9 263.1L750.4 263.1L750.9 263.2L751.4 263.2L751.9 263.3L752.4 263.3L752.9 263.4L753.4 263.4L753.9 263.4L754.4 263.5L754.9 263.5L755.4 263.6L755.9 263.6L756.4 263.6L756.9 263.7L757.4 263.7L757.9 263.7L758.4 263.8L758.9 263.8L759.4 263.8L759.9 263.9L760.4 263.9L760.9 263.9L761.4 264.0L761.9 264.0L762.4 264.0L762.9 264.0L763.4 264.1L763.9 264.1L764.4 264.1L764.9 264.1L765.4 264.2L765.9 264.2L766.4 264.2L766.9 264.2L767.4 264.3L767.9 264.3L768.4 264.3L768.9 264.3L769.4 264.3L769.9 264.3L770.4 264.4L770.9 264.4L771.4 264.4L771.9 264.4L772.4 264.4L772.9 264.4L773.4 264.4L773.9 264.5L774.4 264.5L774.9 264.5L775.4 264.5L775.9 264.5L776.4 264.5L776.9 264.5L777.4 264.5L777.9 264.5L778.4 264.5L778.9 264.5L779.4 264.5L779.9 264.5L780.4 264.5L780.9 264.5L781.4 264.5L781.9 264.5L782.4 264.5L782.9 264.5L783.4 264.5L783.9 264.5L784.4 264.5L784.9 264.5L785.4 264.5L785.9 264.5L786.4 264.5L786.9 264.5L787.4 264.5L787.9 264.5L788.4 264.5L788.9 264.5L789.4 264.4L789.9 264.4L790.4 264.4L790.9 264.4L791.4 264.4L791.9 264.4L792.4 264.4L792.9 264.3L793.4 264.3L793.9 264.3L794.4 264.3L794.9 264.3L795.4 264.2L795.9 264.2L796.4 264.2L796.9 264.2L797.4 264.2L797.9 264.1L798.4 264.1L798.9 264.1L799.4 264.1L799.9 264.0L800.4 264.0L800.9 264.0L801.4 263.9L801.9 263.9L802.4 263.9L802.9 263.9L803.4 263.8L803.9 263.8L804.4 263.8L804.9 263.7L805.4 263.7L805.9 263.7L806.4 263.6L806.9 263.6L807.4 263.5L807.9 263.5L808.4 263.5L808.9 263.4L809.4 263.4L809.9 263.3L810.4 263.3L810.9 263.3L811.4 263.2L811.9 263.2L812.4 263.1L812.9 263.1L813.4 263.0L813.8 263.0L814.3 262.9L814.8 262.9L815.3 262.8L815.8 262.8L816.3 262.7L816.8 262.7L817.3 262.6L817.8 262.6L818.3 262.5L818.8 262.5L819.3 262.4L819.8 262.4L820.3 262.3L820.8 262.2L821.3 262.2L821.8 262.1L822.3 262.1L822.8 262.0L823.3 261.9L823.8 261.9L824.3 261.8L824.8 261.8L825.3 261.7L825.8 261.6L826.3 261.6L826.8 261.5L827.3 261.4L827.8 261.4L828.3 261.3L828.8 261.2L829.2 261.1L829.7 261.1L830.2 261.0L830.7 260.9L831.2 260.9L831.7 260.8L832.2 260.7L832.7 260.6L833.2 260.6L833.7 260.5L834.2 260.4L834.7 260.3L835.2 260.2L835.7 260.2L836.2 260.1L836.7 260.0L837.2 259.9L837.7 259.8L838.1 259.8L838.6 259.7L839.1 259.6L839.6 259.5L840.1 259.4L840.6 259.3L841.1 259.2L841.6 259.2L842.1 259.1L842.6 259.0L843.1 258.9L843.6 258.8L844.1 258.7L844.5 258.6L845.0 258.5L845.5 258.4L846.0 258.3L846.5 258.2L847.0 258.1L847.5 258.0L848.0 257.9L848.5 257.8L849.0 257.7L849.5 257.6L849.9 257.5L850.4 257.4L850.9 257.3L851.4 257.2L851.9 257.1L852.4 257.0L852.9 256.9L853.4 256.8L853.9 256.7L854.3 256.6L854.8 256.5L855.3 256.4L855.8 256.3L856.3 256.2L856.8 256.0L857.3 255.9L857.8 255.8L858.2 255.7L858.7 255.6L859.2 255.5L859.7 255.3L860.2 255.2L860.7 255.1L861.2 255.0L861.6 254.8L862.1 254.7L862.6 254.6L863.1 254.5L863.6 254.3L864.1 254.2L864.5 254.1L865.0 253.9L865.5 253.8L866.0 253.7L866.5 253.5L867.0 253.4L867.4 253.3L867.9 253.1L868.4 253.0L868.9 252.8L869.4 252.7L869.8 252.6L870.3 252.4L870.8 252.3L871.3 252.1L871.7 252.0L872.2 251.8L872.7 251.7L873.2 251.5L873.6 251.4L874.1 251.2L874.6 251.0L875.1 250.9L875.5 250.7L876.0 250.5L876.5 250.4L877.0 250.2L877.4 250.0L877.9 249.9L878.4 249.7L878.8 249.5L879.3 249.4L879.8 249.2L880.2 249.0L880.7 248.8L881.2 248.6L881.6 248.5L882.1 248.3L882.6 248.1L883.0 247.9L883.5 247.7L884.0 247.5L884.4 247.3L884.9 247.1L885.3 246.9L885.8 246.7L886.3 246.5L886.7 246.3L887.2 246.1L887.6 245.9L888.1 245.7L888.5 245.5L889.0 245.3L889.4 245.1L889.9 244.9L890.3 244.6L890.8 244.4L891.2 244.2L891.7 244.0L892.1 243.7L892.6 243.5L893.0 243.3L893.5 243.1L893.9 242.8L894.4 242.6L894.8 242.3L895.2 242.1L895.7 241.9L896.1 241.6L896.5 241.4L897.0 241.1L897.4 240.9L897.8 240.6L898.3 240.4L898.7 240.1L899.1 239.8L899.5 239.6L900.0 239.3L900.4 239.0L900.8 238.8L901.2 238.5L901.7 238.2L902.1 237.9L902.5 237.7L902.9 237.4L903.3 237.1L903.7 236.8L904.1 236.5L904.5 236.2L904.9 235.9L905.3 235.6L905.7 235.3L906.1 235.0L906.5 234.7L906.9 234.4L907.3 234.1L907.7 233.8L908.1 233.5L908.5 233.2L908.9 232.9L909.3 232.6L909.7 232.2L910.1 231.9L910.4 231.6L910.8 231.3L911.2 230.9L911.6 230.6L911.9 230.3L912.3 229.9L912.7 229.6L913.0 229.3L913.4 228.9L913.8 228.6L914.1 228.2L914.5 227.9L914.8 227.5L915.2 227.2L915.5 226.8L915.9 226.4L916.2 226.1L916.6 225.7L916.9 225.3L917.2 225.0L917.6 224.6L917.9 224.2L918.2 223.9L918.6 223.5L918.9 223.1L919.2 222.7L919.5 222.3L919.9 221.9L920.2 221.6L920.5 221.2L920.8 220.8L921.1 220.4L921.4 220.0L921.7 219.6L922.0 219.2L922.3 218.8L922.6 218.4L922.9 218.0L923.2 217.6L923.5 217.2L923.8 216.8L924.1 216.4L924.4 216.0L924.7 215.6L925.0 215.1L925.2 214.7L925.5 214.3L925.8 213.9L926.1 213.5L926.3 213.1L926.6 212.6L926.9 212.2L927.1 211.8L927.4 211.4L927.7 210.9L927.9 210.5L928.2 210.1L928.4 209.6L928.7 209.2L928.9 208.8L929.2 208.3L929.4 207.9L929.7 207.5L929.9 207.0L930.2 206.6L930.4 206.2L930.6 205.7L930.9 205.3L931.1 204.8L931.3 204.4L931.6 203.9L931.8 203.5L932.0 203.1L932.2 202.6L932.5 202.2L932.7 201.7L932.9 201.3L933.1 200.8L933.3 200.4L933.5 199.9L933.8 199.4L934.0 199.0L934.2 198.5L934.4 198.1L934.6 197.6L934.8 197.2L935.0 196.7L935.2 196.2L935.4 195.8L935.6 195.3L935.7 194.9L935.9 194.4L936.1 193.9L936.3 193.5L936.5 193.0L936.7 192.5L936.8 192.1L937.0 191.6L937.2 191.1L937.4 190.7L937.5 190.2L937.7 189.7L937.9 189.2L938.0 188.8L938.2 188.3L938.4 187.8L938.5 187.3L938.7 186.9L938.8 186.4L939.0 185.9L939.1 185.4L939.2 185.0L939.4 184.5L939.5 184.0L939.6 183.5L939.8 183.0L939.9 182.5L940.0 182.1L940.1 181.6L940.2 181.1L940.4 180.6L940.5 180.1L940.6 179.6L940.7 179.1L940.7 178.6L940.8 178.1L940.9 177.6L941.0 177.2L941.1 176.7L941.1 176.2L941.2 175.7L941.3 175.2L941.3 174.7L941.4 174.2L941.4 173.7L941.5 173.2L941.5 172.7L941.6 172.2L941.6 171.7L941.6 171.2L941.6 170.7L941.7 170.2L941.7 169.7L941.7 169.2L941.7 168.7L941.8 168.2L941.8 167.7L941.9 167.2L942.0 166.7L942.1 166.2L942.2 165.7L942.4 165.2L942.5 164.8L942.7 164.3L943.0 163.9L943.2 163.4L943.5 163.0L943.8 162.6L944.2 162.3L944.5 161.9L944.9 161.6L945.4 161.4L945.8 161.2L946.3 161.0L946.8 161.0L947.3 161.0L947.8 161.0L948.3 161.1L948.8 161.2L949.2 161.4L949.7 161.6L950.2 161.8L950.6 162.0L951.0 162.2L951.5 162.5L951.9 162.7L952.4 163.0L952.8 163.2L953.2 163.5L953.6 163.7L954.1 164.0L954.5 164.2L954.9 164.5L955.4 164.7L955.8 165.0L956.3 165.2L956.7 165.4L957.2 165.6L957.6 165.8L958.1 166.1L958.5 166.3L959.0 166.5L959.4 166.7L959.9 167.0L960.3 167.2" fill="none" stroke="#f7901e" stroke-width="2.90" stroke-linejoin="round" stroke-linecap="butt"/>
<path d="M566.7 219.2L567.2 219.2L567.7 219.1L568.2 219.1L568.7 219.1L569.2 219.0L569.7 219.0L570.2 219.0L570.7 218.9L571.2 218.9L571.6 218.8L572.1 218.7L572.6 218.7L573.1 218.6L573.6 218.5L574.1 218.4L574.6 218.4L575.1 218.3L575.6 218.2L576.1 218.1L576.6 218.0L577.1 217.9L577.6 217.8L578.1 217.7L578.6 217.6L579.0 217.5L579.5 217.4L580.0 217.3L580.5 217.2L581.0 217.1L581.5 217.0L582.0 216.9L582.5 216.8L583.0 216.7L583.5 216.6L583.9 216.5L584.4 216.4L584.9 216.3L585.4 216.2L585.9 216.1L586.4 216.0L586.9 215.9L587.4 215.8L587.9 215.7L588.4 215.6L588.8 215.5L589.3 215.4L589.8 215.4L590.3 215.3L590.8 215.2L591.3 215.1L591.8 215.1L592.3 215.0L592.8 214.9L593.3 214.8L593.8 214.8L594.3 214.7L594.8 214.7L595.3 214.6L595.8 214.6L596.3 214.6L596.8 214.5L597.3 214.5L597.8 214.5L598.3 214.6L598.8 214.6L599.3 214.7L599.7 214.9L600.2 215.1L600.6 215.3L601.0 215.7L601.3 216.0L601.6 216.4L601.9 216.9L602.1 217.3L602.3 217.8L602.4 218.3L602.6 218.7L602.8 219.2L602.9 219.7L603.1 220.2L603.3 220.6L603.5 221.1L603.7 221.5L603.9 222.0L604.1 222.5L604.3 222.9L604.5 223.4L604.7 223.8L605.0 224.3L605.2 224.7L605.4 225.2L605.7 225.6L605.9 226.0L606.1 226.5L606.4 226.9L606.6 227.3L606.9 227.8L607.2 228.2L607.4 228.6L607.7 229.0L607.9 229.5L608.2 229.9L608.5 230.3L608.8 230.7L609.0 231.2L609.3 231.6L609.6 232.0L609.9 232.4L610.2 232.8L610.5 233.2L610.7 233.6L611.0 234.0L611.3 234.4L611.6 234.8L611.9 235.2L612.2 235.6L612.5 236.0L612.9 236.4L613.2 236.8L613.5 237.2L613.8 237.6L614.1 238.0L614.4 238.3L614.8 238.7L615.1 239.1L615.4 239.5L615.7 239.9L616.1 240.2L616.4 240.6L616.7 241.0L617.1 241.4L617.4 241.7L617.8 242.1L618.1 242.5L618.4 242.8L618.8 243.2L619.1 243.5L619.5 243.9L619.8 244.3L620.2 244.6L620.5 245.0L620.9 245.3L621.3 245.7L621.6 246.0L622.0 246.3L622.4 246.7L622.7 247.0L623.1 247.4L623.5 247.7L623.8 248.0L624.2 248.4L624.6 248.7L625.0 249.0L625.3 249.4L625.7 249.7L626.1 250.0L626.5 250.3L626.9 250.7L627.2 251.0L627.6 251.3L628.0 251.6L628.4 251.9L628.8 252.2L629.2 252.5L629.6 252.8L630.0 253.1L630.4 253.5L630.8 253.8L631.2 254.1L631.6 254.4L632.0 254.6L632.4 254.9L632.8 255.2L633.2 255.5L633.6 255.8L634.0 256.1L634.4 256.4L634.8 256.7L635.3 257.0L635.7 257.2L636.1 257.5L636.5 257.8L636.9 258.1L637.4 258.3L637.8 258.6L638.2 258.9L638.6 259.1L639.0 259.4L639.5 259.7L639.9 259.9L640.3 260.2L640.8 260.4L641.2 260.7L641.6 260.9L642.0 261.2L642.5 261.4L642.9 261.7L643.4 261.9L643.8 262.2L644.2 262.4L644.7 262.7L645.1 262.9L645.5 263.1L646.0 263.4L646.4 263.6L646.9 263.8L647.3 264.1L647.8 264.3L648.2 264.5L648.7 264.7L649.1 265.0L649.6 265.2L650.0 265.4L650.5 265.6L650.9 265.8L651.4 266.0L651.8 266.3L652.3 266.5L652.7 266.7L653.2 266.9L653.6 267.1L654.1 267.3L654.6 267.5L655.0 267.7L655.5 267.9L655.9 268.1L656.4 268.3L656.9 268.5L657.3 268.7L657.8 268.9L658.2 269.0L658.7 269.2L659.2 269.4L659.6 269.6L660.1 269.8L660.6 270.0L661.0 270.1L661.5 270.3L662.0 270.5L662.4 270.7L662.9 270.8L663.4 271.0L663.9 271.2L664.3 271.3L664.8 271.5L665.3 271.7L665.7 271.8L666.2 272.0L666.7 272.2L667.2 272.3L667.6 272.5L668.1 272.6L668.6 272.8L669.1 273.0L669.5 273.1L670.0 273.3L670.5 273.4L671.0 273.6L671.4 273.7L671.9 273.8L672.4 274.0L672.9 274.1L673.4 274.3L673.8 274.4L674.3 274.6L674.8 274.7L675.3 274.8L675.8 275.0L676.2 275.1L676.7 275.2L677.2 275.4L677.7 275.5L678.2 275.6L678.7 275.8L679.1 275.9L679.6 276.0L680.1 276.1L680.6 276.3L681.1 276.4L681.6 276.5L682.1 276.6L682.5 276.8L683.0 276.9L683.5 277.0L684.0 277.1L684.5 277.2L685.0 277.3L685.5 277.5L685.9 277.6L686.4 277.7L686.9 277.8L687.4 277.9L687.9 278.0L688.4 278.1L688.9 278.2L689.4 278.3L689.9 278.4L690.3 278.6L690.8 278.7L691.3 278.8L691.8 278.9L692.3 279.0L692.8 279.1L693.3 279.2L693.8 279.3L694.3 279.4L694.8 279.5L695.2 279.6L695.7 279.6L696.2 279.7L696.7 279.8L697.2 279.9L697.7 280.0L698.2 280.1L698.7 280.2L699.2 280.3L699.7 280.4L700.2 280.5L700.7 280.6L701.1 280.7L701.6 280.7L702.1 280.8L702.6 280.9L703.1 281.0L703.6 281.1L704.1 281.2L704.6 281.3L705.1 281.3L705.6 281.4L706.1 281.5L706.6 281.6L707.1 281.7L707.6 281.7L708.0 281.8L708.5 281.9L709.0 282.0L709.5 282.1L710.0 282.1L710.5 282.2L711.0 282.3L711.5 282.4L712.0 282.4L712.5 282.5L713.0 282.6L713.5 282.7L714.0 282.7L714.5 282.8L715.0 282.9L715.5 283.0L716.0 283.0L716.5 283.1L717.0 283.2L717.4 283.3L717.9 283.3L718.4 283.4L718.9 283.5L719.4 283.5L719.9 283.6L720.4 283.7L720.9 283.8L721.4 283.8L721.9 283.9L722.4 284.0L722.9 284.0L723.4 284.1L723.9 284.2L724.4 284.2L724.9 284.3L725.4 284.4L725.9 284.4L726.4 284.5L726.9 284.5L727.4 284.6L727.9 284.7L728.4 284.7L728.8 284.8L729.3 284.9L729.8 284.9L730.3 285.0L730.8 285.0L731.3 285.1L731.8 285.2L732.3 285.2L732.8 285.3L733.3 285.3L733.8 285.4L734.3 285.5L734.8 285.5L735.3 285.6L735.8 285.6L736.3 285.7L736.8 285.7L737.3 285.8L737.8 285.9L738.3 285.9L738.8 286.0L739.3 286.0L739.8 286.1L740.3 286.1L740.8 286.2L741.3 286.2L741.8 286.3L742.3 286.3L742.8 286.4L743.3 286.4L743.8 286.5L744.3 286.5L744.8 286.6L745.3 286.6L745.8 286.7L746.3 286.7L746.8 286.8L747.3 286.8L747.7 286.8L748.2 286.9L748.7 286.9L749.2 287.0L749.7 287.0L750.2 287.1L750.7 287.1L751.2 287.2L751.7 287.2L752.2 287.2L752.7 287.3L753.2 287.3L753.7 287.4L754.2 287.4L754.7 287.4L755.2 287.5L755.7 287.5L756.2 287.5L756.7 287.6L757.2 287.6L757.7 287.7L758.2 287.7L758.7 287.7L759.2 287.8L759.7 287.8L760.2 287.8L760.7 287.9L761.2 287.9L761.7 287.9L762.2 288.0L762.7 288.0L763.2 288.0L763.7 288.0L764.2 288.1L764.7 288.1L765.2 288.1L765.7 288.2L766.2 288.2L766.7 288.2L767.2 288.2L767.7 288.3L768.2 288.3L768.7 288.3L769.2 288.3L769.7 288.4L770.2 288.4L770.7 288.4L771.2 288.4L771.7 288.4L772.2 288.5L772.7 288.5L773.2 288.5L773.7 288.5L774.2 288.5L774.7 288.6L775.2 288.6L775.7 288.6L776.2 288.6L776.7 288.6L777.2 288.6L777.7 288.6L778.2 288.7L778.7 288.7L779.2 288.7L779.7 288.7L780.2 288.7L780.7 288.7L781.2 288.7L781.7 288.7L782.2 288.7L782.7 288.8L783.2 288.8L783.7 288.8L784.2 288.8L784.7 288.8L785.2 288.8L785.7 288.8L786.2 288.8L786.7 288.8L787.2 288.8L787.7 288.8L788.2 288.8L788.7 288.8L789.2 288.8L789.7 288.8L790.2 288.8L790.7 288.8L791.2 288.8L791.7 288.8L792.2 288.8L792.7 288.8L793.2 288.8L793.7 288.8L794.2 288.8L794.7 288.8L795.2 288.8L795.7 288.8L796.2 288.8L796.7 288.7L797.2 288.7L797.7 288.7L798.2 288.7L798.7 288.7L799.2 288.7L799.7 288.7L800.2 288.7L800.7 288.7L801.2 288.6L801.7 288.6L802.2 288.6L802.7 288.6L803.2 288.6L803.7 288.6L804.2 288.5L804.7 288.5L805.2 288.5L805.7 288.5L806.2 288.5L806.7 288.4L807.2 288.4L807.7 288.4L808.2 288.4L808.7 288.4L809.2 288.3L809.7 288.3L810.2 288.3L810.7 288.3L811.2 288.2L811.7 288.2L812.2 288.2L812.7 288.1L813.2 288.1L813.7 288.1L814.2 288.1L814.7 288.0L815.2 288.0L815.7 288.0L816.2 287.9L816.7 287.9L817.2 287.9L817.7 287.8L818.2 287.8L818.7 287.7L819.2 287.7L819.7 287.7L820.2 287.6L820.7 287.6L821.2 287.6L821.7 287.5L822.2 287.5L822.7 287.4L823.2 287.4L823.7 287.3L824.2 287.3L824.7 287.3L825.2 287.2L825.7 287.2L826.2 287.1L826.7 287.1L827.2 287.0L827.7 287.0L828.2 286.9L828.7 286.9L829.2 286.8L829.7 286.8L830.2 286.7L830.7 286.7L831.2 286.6L831.7 286.5L832.2 286.5L832.6 286.4L833.1 286.4L833.6 286.3L834.1 286.3L834.6 286.2L835.1 286.1L835.6 286.1L836.1 286.0L836.6 286.0L837.1 285.9L837.6 285.8L838.1 285.8L838.6 285.7L839.1 285.6L839.6 285.6L840.1 285.5L840.6 285.4L841.1 285.4L841.6 285.3L842.1 285.2L842.6 285.2L843.1 285.1L843.6 285.0L844.1 284.9L844.6 284.9L845.0 284.8L845.5 284.7L846.0 284.6L846.5 284.6L847.0 284.5L847.5 284.4L848.0 284.3L848.5 284.3L849.0 284.2L849.5 284.1L850.0 284.0L850.5 283.9L851.0 283.8L851.5 283.8L852.0 283.7L852.5 283.6L852.9 283.5L853.4 283.4L853.9 283.3L854.4 283.2L854.9 283.2L855.4 283.1L855.9 283.0L856.4 282.9L856.9 282.8L857.4 282.7L857.9 282.6L858.4 282.5L858.9 282.4L859.3 282.3L859.8 282.2L860.3 282.1L860.8 282.0L861.3 281.9L861.8 281.8L862.3 281.7L862.8 281.6L863.3 281.5L863.8 281.4L864.2 281.3L864.7 281.2L865.2 281.1L865.7 281.0L866.2 280.9L866.7 280.8L867.2 280.7L867.7 280.6L868.2 280.5L868.6 280.4L869.1 280.2L869.6 280.1L870.1 280.0L870.6 279.9L871.1 279.8L871.6 279.7L872.1 279.5L872.5 279.4L873.0 279.3L873.5 279.2L874.0 279.1L874.5 278.9L875.0 278.8L875.4 278.7L875.9 278.6L876.4 278.4L876.9 278.3L877.4 278.2L877.9 278.0L878.3 277.9L878.8 277.8L879.3 277.6L879.8 277.5L880.3 277.4L880.8 277.2L881.2 277.1L881.7 276.9L882.2 276.8L882.7 276.6L883.1 276.5L883.6 276.4L884.1 276.2L884.6 276.1L885.1 275.9L885.5 275.7L886.0 275.6L886.5 275.4L887.0 275.3L887.4 275.1L887.9 274.9L888.4 274.8L888.8 274.6L889.3 274.4L889.8 274.3L890.3 274.1L890.7 273.9L891.2 273.7L891.7 273.6L892.1 273.4L892.6 273.2L893.1 273.0L893.5 272.8L894.0 272.7L894.4 272.5L894.9 272.3L895.4 272.1L895.8 271.9L896.3 271.7L896.7 271.5L897.2 271.3L897.7 271.1L898.1 270.9L898.6 270.7L899.0 270.5L899.5 270.2L899.9 270.0L900.4 269.8L900.8 269.6L901.3 269.4L901.7 269.1L902.2 268.9L902.6 268.7L903.1 268.5L903.5 268.2L904.0 268.0L904.4 267.8L904.8 267.5L905.3 267.3L905.7 267.0L906.1 266.8L906.6 266.5L907.0 266.3L907.4 266.0L907.9 265.8L908.3 265.5L908.7 265.2L909.1 265.0L909.6 264.7L910.0 264.4L910.4 264.2L910.8 263.9L911.2 263.6L911.7 263.3L912.1 263.1L912.5 262.8L912.9 262.5L913.3 262.2L913.7 261.9L914.1 261.6L914.5 261.3L914.9 261.0L915.3 260.7L915.7 260.4L916.1 260.1L916.5 259.8L916.9 259.5L917.3 259.2L917.7 258.9L918.1 258.5L918.4 258.2L918.8 257.9L919.2 257.6L919.6 257.2L919.9 256.9L920.3 256.6L920.7 256.2L921.1 255.9L921.4 255.5L921.8 255.2L922.1 254.9L922.5 254.5L922.9 254.2L923.2 253.8L923.6 253.4L923.9 253.1L924.3 252.7L924.6 252.4L924.9 252.0L925.3 251.6L925.6 251.2L925.9 250.9L926.3 250.5L926.6 250.1L926.9 249.7L927.2 249.3L927.5 248.9L927.8 248.5L928.1 248.2L928.4 247.8L928.7 247.4L929.0 246.9L929.3 246.5L929.6 246.1L929.9 245.7L930.2 245.3L930.4 244.9L930.7 244.4L931.0 244.0L931.2 243.6L931.5 243.2L931.7 242.7L931.9 242.3L932.2 241.8L932.4 241.4L932.6 240.9L932.8 240.5L933.0 240.0L933.2 239.6L933.4 239.1L933.6 238.7L933.8 238.2L934.0 237.7L934.1 237.2L934.3 236.8L934.5 236.3L934.6 235.8L934.7 235.3L934.9 234.8L935.0 234.4L935.1 233.9L935.2 233.4L935.4 232.9L935.5 232.4L935.6 231.9L935.7 231.4L935.8 231.0L935.9 230.5L936.0 230.0L936.1 229.5L936.2 229.0L936.3 228.5L936.4 228.0L936.5 227.5L936.5 227.0L936.6 226.5L936.7 226.0L936.8 225.5L936.9 225.1L937.0 224.6L937.1 224.1L937.2 223.6L937.3 223.1L937.4 222.6L937.5 222.1L937.6 221.6L937.7 221.1L937.8 220.6L937.9 220.2L938.1 219.7L938.2 219.2L938.3 218.7L938.5 218.2L938.6 217.8L938.8 217.3L939.0 216.8L939.2 216.4L939.4 215.9L939.6 215.4L939.8 215.0L940.1 214.6L940.4 214.2L940.7 213.8L941.0 213.4L941.4 213.1L941.8 212.8L942.3 212.6L942.7 212.4L943.2 212.2L943.7 212.1L944.2 212.1L944.7 212.1L945.2 212.1L945.7 212.1L946.2 212.2L946.7 212.3L947.2 212.4L947.7 212.5L948.1 212.7L948.6 212.8L949.1 213.0L949.6 213.2L950.0 213.3L950.5 213.5L951.0 213.7L951.4 213.9L951.9 214.1L952.3 214.3L952.8 214.4L953.3 214.6L953.7 214.8L954.2 215.0L954.7 215.2L955.2 215.3L955.6 215.5L956.1 215.6L956.6 215.8L957.1 215.9L957.5 216.1L958.0 216.2L958.5 216.3L959.0 216.5L959.5 216.6L959.9 216.8L960.4 217.0" fill="none" stroke="#0a66b7" stroke-width="2.90" stroke-linejoin="round" stroke-linecap="butt"/>
<rect x="874" y="281" width="83" height="68" fill="#fff"/>
<rect x="65.50" y="37.50" width="394.10" height="315.00" fill="none" stroke="#2b2d3a" stroke-width="1.7"/>
<rect x="566.60" y="37.50" width="394.40" height="315.00" fill="none" stroke="#2b2d3a" stroke-width="1.7"/>
<text transform="translate(262.08 25.40) scale(1.1065 1)" font-size="11.60" text-anchor="middle" style="stroke:none;fill:#363641">(V(toggle)-V(on_side))/0.001A</text>
<text transform="translate(60.40 40.85) scale(1.1412 1)" font-size="12.30" text-anchor="end">45</text>
<text transform="translate(561.30 40.85) scale(1.1412 1)" font-size="12.30" text-anchor="end">45</text>
<text transform="translate(60.40 84.85) scale(1.1412 1)" font-size="12.30" text-anchor="end">40</text>
<text transform="translate(561.30 84.85) scale(1.1412 1)" font-size="12.30" text-anchor="end">40</text>
<text transform="translate(60.40 129.85) scale(1.1412 1)" font-size="12.30" text-anchor="end">35</text>
<text transform="translate(561.30 129.85) scale(1.1412 1)" font-size="12.30" text-anchor="end">35</text>
<text transform="translate(60.40 176.35) scale(1.1412 1)" font-size="12.30" text-anchor="end">30</text>
<text transform="translate(561.30 176.35) scale(1.1412 1)" font-size="12.30" text-anchor="end">30</text>
<text transform="translate(60.40 220.45) scale(1.1412 1)" font-size="12.30" text-anchor="end">25</text>
<text transform="translate(561.30 220.45) scale(1.1412 1)" font-size="12.30" text-anchor="end">25</text>
<text transform="translate(60.40 266.05) scale(1.1412 1)" font-size="12.30" text-anchor="end">20</text>
<text transform="translate(561.30 266.05) scale(1.1412 1)" font-size="12.30" text-anchor="end">20</text>
<text transform="translate(60.40 311.65) scale(0.8497 1)" font-size="12.30" text-anchor="end">15</text>
<text transform="translate(561.30 311.65) scale(0.8497 1)" font-size="12.30" text-anchor="end">15</text>
<text transform="translate(60.40 357.25) scale(0.8497 1)" font-size="12.30" text-anchor="end">10</text>
<text transform="translate(561.30 357.25) scale(0.8497 1)" font-size="12.30" text-anchor="end">10</text>
<text transform="translate(65.35 371.60) scale(1.1379 1)" font-size="12.30" text-anchor="middle">0</text>
<text transform="translate(104.40 371.60) scale(1.1379 1)" font-size="12.30" text-anchor="middle">3</text>
<text transform="translate(143.90 371.60) scale(1.1379 1)" font-size="12.30" text-anchor="middle">6</text>
<text transform="translate(183.25 371.60) scale(1.1379 1)" font-size="12.30" text-anchor="middle">9</text>
<text transform="translate(222.75 371.60) scale(0.8497 1)" font-size="12.30" text-anchor="middle">12</text>
<text transform="translate(262.35 371.60) scale(0.8497 1)" font-size="12.30" text-anchor="middle">15</text>
<text transform="translate(301.75 371.60) scale(0.8497 1)" font-size="12.30" text-anchor="middle">18</text>
<text transform="translate(341.15 371.60) scale(0.8497 1)" font-size="12.30" text-anchor="middle">21</text>
<text transform="translate(380.05 371.60) scale(1.1379 1)" font-size="12.30" text-anchor="middle">24</text>
<text transform="translate(419.65 371.60) scale(1.1379 1)" font-size="12.30" text-anchor="middle">27</text>
<text transform="translate(459.35 371.60) scale(1.1379 1)" font-size="12.30" text-anchor="middle">30</text>
<text transform="translate(566.95 371.60) scale(0.8700 1)" font-size="12.30" text-anchor="middle">−15</text>
<text transform="translate(632.05 371.60) scale(0.8700 1)" font-size="12.30" text-anchor="middle">−10</text>
<text transform="translate(697.15 371.60) scale(0.9744 1)" font-size="12.30" text-anchor="middle">−5</text>
<text transform="translate(763.75 371.60) scale(1.1379 1)" font-size="12.30" text-anchor="middle">0</text>
<text transform="translate(827.35 371.60) scale(1.1379 1)" font-size="12.30" text-anchor="middle">5</text>
<text transform="translate(893.45 371.60) scale(0.8497 1)" font-size="12.30" text-anchor="middle">10</text>
<text transform="translate(960.00 371.60) scale(0.8497 1)" font-size="12.30" text-anchor="middle">15</text>
<text transform="translate(262.90 397.30) scale(0.9515 1)" font-size="12.60" text-anchor="middle">V<tspan font-size="9.58" dy="3.28">D</tspan><tspan dy="-3.28">, V<tspan font-size="9.58" dy="3.28">S</tspan><tspan dy="-3.28">(V)</tspan></tspan></text>
<text transform="translate(764.05 397.30) scale(0.9947 1)" font-size="12.60" text-anchor="middle">V<tspan font-size="9.58" dy="3.28">D</tspan><tspan dy="-3.28">, V<tspan font-size="9.58" dy="3.28">S</tspan><tspan dy="-3.28">(V)</tspan></tspan></text>
<text transform="translate(20.80 194.40) rotate(-90) scale(0.8700 1)" font-size="12.40" text-anchor="middle">R<tspan font-size="9.42" dy="3.22">ON</tspan><tspan dy="-3.22"> (Ω)</tspan></text>
<text transform="translate(520.90 194.10) rotate(-90) scale(0.8749 1)" font-size="12.40" text-anchor="middle">R<tspan font-size="9.42" dy="3.22">ON</tspan><tspan dy="-3.22"> (Ω)</tspan></text>
<text transform="translate(576.35 57.20) scale(0.8515 1)" font-size="12.40" text-anchor="start">V<tspan font-size="9.42" dy="3.22">D</tspan><tspan dy="-3.22"> = +15 V</tspan></text>
<text transform="translate(575.80 73.30) scale(0.8796 1)" font-size="12.40" text-anchor="start">V<tspan font-size="9.42" dy="3.22">S</tspan><tspan dy="-3.22"> = −15 V</tspan></text>
<text transform="translate(907.75 296.60) scale(0.9104 1)" font-size="12.20" text-anchor="start">+125<tspan font-size="14.88">°</tspan>C</text>
<text transform="translate(907.75 311.90) scale(0.9188 1)" font-size="12.20" text-anchor="start">+85<tspan font-size="14.88">°</tspan>C</text>
<text transform="translate(906.95 327.90) scale(1.0059 1)" font-size="12.20" text-anchor="start">+25<tspan font-size="14.88">°</tspan>C</text>
<text transform="translate(907.30 343.50) scale(1.0010 1)" font-size="12.20" text-anchor="start">−40<tspan font-size="14.88">°</tspan>C</text>
<line x1="879.7" y1="292.90" x2="900" y2="292.90" stroke="#834a9f" stroke-width="3.0" stroke-linecap="round"/>
<line x1="879.7" y1="308.97" x2="900" y2="308.97" stroke="#17aa7d" stroke-width="3.0" stroke-linecap="round"/>
<line x1="879.7" y1="325.04" x2="900" y2="325.04" stroke="#f7901e" stroke-width="3.0" stroke-linecap="round"/>
<line x1="879.7" y1="341.11" x2="900" y2="341.11" stroke="#0a66b7" stroke-width="3.0" stroke-linecap="round"/>
</svg></body></html>
